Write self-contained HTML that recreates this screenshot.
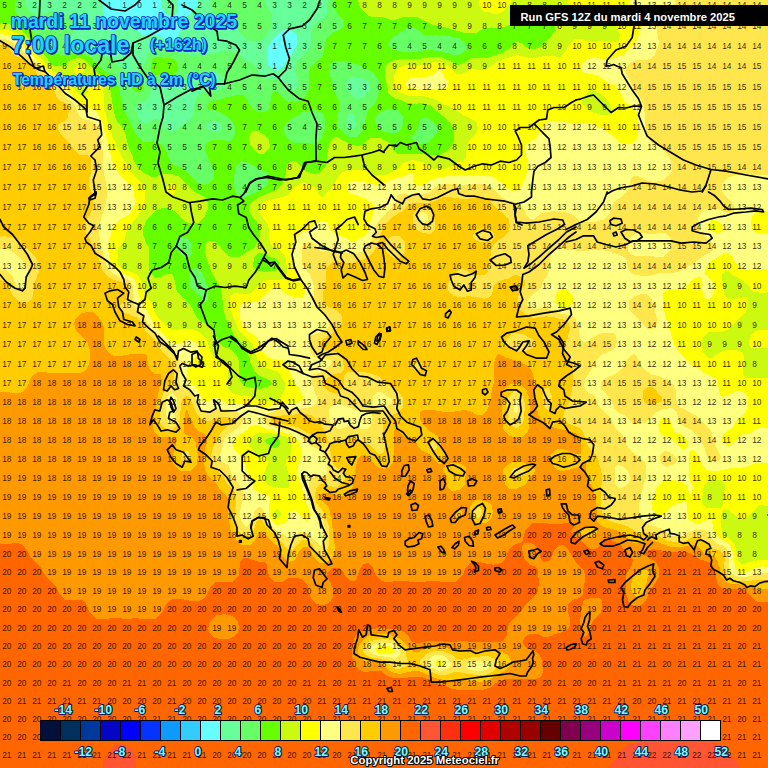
<!DOCTYPE html>
<html><head><meta charset="utf-8"><title>Meteociel GFS</title>
<style>
html,body{margin:0;padding:0;background:#FF6600;}
body{width:768px;height:768px;overflow:hidden;font-family:"Liberation Sans",sans-serif;}
svg{display:block;position:absolute;left:0;top:0}
.n text{font-family:"Liberation Sans",sans-serif;font-size:8.3px;text-anchor:start;fill:#140600;fill-opacity:.88}
.t text{font-family:"Liberation Sans",sans-serif;font-weight:bold;fill:#20d4ff;stroke:#0a22c4;stroke-width:1.5px;paint-order:stroke fill;stroke-linejoin:round}
.ts text{font-family:"Liberation Sans",sans-serif;font-weight:bold;fill:#0a22c4;stroke:#0a22c4;stroke-width:1.3px;stroke-linejoin:round}
.l text{font-family:"Liberation Sans",sans-serif;font-weight:bold;font-size:12.2px;text-anchor:start;fill:#7ff;stroke:#081a5c;stroke-width:2px;paint-order:stroke fill;stroke-linejoin:round}
.c{fill:none;stroke:#000;stroke-width:1.7;stroke-linejoin:round;stroke-linecap:round}
</style></head><body>
<svg width="768" height="768" viewBox="0 0 768 768" shape-rendering="crispEdges">
<rect width="768" height="768" fill="#66FFFF"/>
<path transform="translate(-1,-1)" fill="#66FF99" fill-rule="evenodd" d="M162,0 162,6 165,13 169,16 177,16 179,12 179,0ZM0,0 0,769 769,769 769,0 199,0 199,5 197,9 190,16 183,20 182,25 181,26 181,32 180,33 180,35 177,40 172,44 169,43 160,37 157,37 156,36 146,37 145,36 143,36 137,29 135,25 129,19 126,19 117,31 115,32 111,32 108,29 106,25 105,15 104,14 103,0ZM291,30 293,31 298,37 298,41 299,42 298,43 298,46 294,53 291,56 285,67 280,71 276,71 272,69 269,65 269,62 268,61 268,51 269,50 269,48 274,40 281,33 287,30Z"/>
<path transform="translate(-1,-1)" fill="#66FF66" fill-rule="evenodd" d="M212,0 212,6 213,7 213,12 216,16 230,15 234,19 235,23 240,33 247,40 251,42 257,43 262,41 267,36 272,28 272,26 273,25 273,16 266,4 266,0ZM0,0 0,769 769,769 769,0 329,0 329,5 328,6 328,13 327,14 327,16 322,22 319,23 313,28 313,31 312,32 312,45 309,51 298,62 296,66 296,73 299,78 300,85 299,86 299,88 294,92 291,91 285,85 285,84 281,81 279,81 278,80 267,80 266,79 264,79 260,75 257,68 253,64 248,62 239,54 235,52 231,52 230,51 222,52 215,55 199,55 198,56 190,56 185,54 173,53 172,52 169,52 168,51 165,51 160,49 156,49 151,52 149,55 149,57 147,60 145,67 141,71 137,73 126,73 120,68 114,60 108,59 100,54 98,54 91,50 75,48 71,45 70,42 77,27 76,21 73,18 58,12 51,12 48,14 46,14 42,16 37,16 31,13 28,9 28,7 27,6 27,0ZM207,127 208,125 212,122 218,122 223,126 223,128 219,132 211,132 208,130ZM354,114 356,117 357,127 352,131 347,127 347,124 348,123 349,116 351,114ZM346,84 351,78 362,79 367,81 370,84 371,86 371,91 366,97 360,100 357,100 349,93 347,89ZM228,83 227,87 220,91 216,91 215,92 207,92 206,93 201,94 197,99 196,105 195,106 195,110 194,111 194,114 192,119 187,124 176,132 173,132 172,133 166,130 161,124 159,120 155,120 152,123 148,125 144,125 140,121 138,114 136,111 136,107 138,105 146,102 150,98 153,88 157,84 159,84 160,83 173,84 174,85 176,84 181,84 185,82 193,75 203,75 208,73 217,73 222,76Z"/>
<path transform="translate(-1,-1)" fill="#66FF00" fill-rule="evenodd" d="M144,82 139,82 135,84 133,87 133,90 137,93 142,92 145,88 145,83ZM153,62 153,64 152,65 152,73 156,76 173,76 176,74 178,71 178,64 174,60 172,60 171,59 164,59 163,58 157,58 155,59ZM0,0 0,769 769,769 769,0 335,0 336,10 338,14 345,22 345,27 342,30 333,34 328,39 326,44 325,53 323,58 315,64 311,69 311,71 310,72 310,89 307,96 301,102 299,102 298,103 290,103 286,101 279,93 275,92 273,94 273,96 272,97 271,108 267,113 259,113 255,111 249,104 249,102 246,97 242,95 241,96 236,96 235,97 224,99 223,100 212,103 208,106 208,109 209,110 212,110 213,111 216,111 221,113 227,117 234,124 236,128 236,136 234,140 231,142 226,142 225,141 214,141 208,144 206,148 206,152 212,165 214,167 214,169 215,170 215,179 210,185 207,185 206,186 199,184 183,169 175,166 170,161 167,151 163,146 158,143 155,143 154,142 152,143 145,143 138,137 124,109 120,89 109,74 101,69 91,58 86,55 84,55 83,54 74,54 69,56 60,56 59,55 53,54 47,49 40,47 37,44 32,28 29,25 25,23 18,16 16,12 16,0ZM195,269 198,269 203,274 206,280 206,282 209,287 209,300 207,303 206,303 192,289 190,285 190,277 192,272ZM180,238 187,238 193,245 193,255 192,257 189,259 182,256 177,249 176,243ZM243,162 248,163 260,170 267,172 269,174 269,185 266,188 260,191 258,193 246,198 241,198 239,197 236,193 236,189 235,188 235,175 236,174 236,170 237,169 237,167ZM427,118 433,122 438,127 438,129 439,130 438,131 438,133 435,137 429,143 425,145 420,145 419,144 417,144 414,141 413,138 419,129 421,121 423,119ZM325,117 325,119 326,120 326,129 325,130 325,133 322,141 316,146 311,145 310,144 295,144 294,143 292,143 287,138 285,134 285,131 284,130 285,126 290,121 304,113 316,111 317,112 320,112ZM376,118 381,113 385,111 388,111 389,110 396,110 400,112 404,118 404,125 403,126 403,129 399,134 391,134 390,133 386,133 380,130 377,127 376,125ZM335,62 350,62 356,65 358,65 374,73 380,82 381,90 380,91 379,98 376,104 371,109 368,114 367,120 366,121 366,125 363,132 357,138 350,138 346,136 341,131 338,125 338,116 340,111 340,102 335,92 335,90 333,86 333,83 332,82 332,79 331,78 331,75 330,74 330,66ZM389,45 390,44 390,42 393,39 408,29 413,28 418,30 426,36 444,36 445,37 451,37 452,38 457,38 458,39 460,39 467,44 468,49 463,54 459,56 454,56 450,54 440,53 439,52 435,52 434,51 424,51 423,52 419,52 418,53 413,53 411,54 410,53 402,53 401,52 395,51 393,50Z"/>
<path transform="translate(-1,-1)" fill="#CCF910" fill-rule="evenodd" d="M254,132 252,133 250,138 251,145 257,153 261,155 264,155 266,154 271,148 270,141 267,137 259,132ZM0,24 0,769 769,769 769,0 359,0 360,6 363,11 369,17 371,17 372,18 384,18 392,21 396,21 404,18 418,18 434,26 449,29 453,31 456,31 457,32 460,32 465,34 477,34 486,29 491,29 492,28 494,29 502,29 503,28 506,28 510,26 518,19 520,19 521,18 531,18 542,14 549,16 555,22 556,24 556,31 553,36 541,48 539,49 537,49 536,50 531,50 525,47 522,44 517,43 508,51 501,55 499,55 489,59 473,59 467,63 460,66 455,65 453,63 442,58 429,58 428,59 422,59 421,60 400,60 399,61 395,61 390,63 386,68 386,78 387,79 387,84 388,85 389,93 391,96 397,100 402,101 408,104 412,104 413,105 424,104 425,105 431,106 444,117 445,117 452,125 455,131 455,142 453,146 446,153 441,156 426,156 425,155 398,155 395,152 391,144 381,139 371,139 363,146 356,147 355,146 352,146 338,138 335,138 332,141 330,145 329,154 328,155 328,163 327,164 327,167 321,174 315,175 314,174 308,173 305,171 299,164 296,162 292,162 290,163 288,166 286,179 282,187 277,191 260,198 252,204 250,208 250,212 254,219 258,223 261,229 261,237 260,238 260,240 257,246 253,250 240,258 232,258 227,255 217,243 215,242 210,242 207,244 206,246 206,254 207,255 208,262 211,268 211,270 222,290 222,293 223,294 223,301 224,302 224,311 225,312 226,318 236,338 248,349 250,359 251,360 251,363 256,373 261,377 270,381 273,384 270,387 262,390 248,388 244,386 241,383 241,381 240,380 240,362 238,357 234,352 229,349 227,349 223,347 219,343 218,339 216,336 216,334 214,330 211,327 203,323 198,319 191,305 179,294 177,290 176,282 174,277 172,275 167,275 164,277 157,279 152,275 150,271 150,249 146,242 146,240 144,236 144,229 148,220 156,212 163,209 169,209 177,213 185,222 193,225 199,224 205,219 209,210 209,204 206,198 194,192 186,184 186,183 179,177 177,177 173,175 162,175 157,178 153,178 145,174 139,169 134,160 134,158 130,150 126,134 123,128 119,124 116,118 115,112 114,111 113,99 112,98 112,93 111,92 110,86 107,81 102,76 97,73 85,60 78,59 70,62 64,67 55,67 50,63 49,60 43,54 38,52 32,46 30,42 30,40 28,37 21,30 10,25ZM266,441 270,439 278,439 281,441 281,444 277,449 275,449 271,446 268,445 266,443ZM255,259 256,257 260,254 267,255 271,258 275,259 280,264 280,268 276,272 269,272 268,273 259,272 254,268Z"/>
<path transform="translate(-1,-1)" fill="#FFFF00" fill-rule="evenodd" d="M755,333 752,337 750,342 750,346 751,348 753,349 769,349 769,331 760,331ZM172,184 168,187 168,192 170,195 173,196 177,193 178,188 175,185ZM81,65 80,66 78,66 75,69 75,73 78,75 83,75 85,71 85,68ZM769,0 569,0 569,4 570,6 580,17 584,19 588,19 589,20 593,20 594,19 606,19 612,22 618,29 621,36 620,40 617,43 610,43 609,42 599,42 598,43 593,43 592,42 588,42 584,40 576,40 570,45 564,56 561,58 557,58 556,57 543,57 542,58 537,58 536,59 529,59 528,58 517,56 516,57 513,57 512,58 504,60 501,62 499,62 487,71 478,71 477,70 473,70 463,75 458,75 448,66 442,63 434,63 427,66 406,66 405,67 400,68 396,72 396,75 395,76 395,87 400,93 410,97 425,97 426,98 433,99 441,103 443,105 447,106 457,111 465,117 469,118 474,121 478,125 479,130 477,134 472,139 469,144 468,151 467,152 467,158 462,163 460,163 451,168 449,168 445,170 435,170 424,163 413,161 405,164 397,171 387,176 376,176 366,171 353,171 352,172 346,172 345,173 343,173 340,176 336,184 331,191 323,198 320,196 319,193 315,188 310,185 303,184 297,187 296,189 287,197 267,202 263,204 260,207 260,213 269,226 269,229 270,230 270,241 271,242 271,244 273,247 281,251 286,257 286,259 287,260 287,266 288,267 288,274 287,275 287,277 284,280 281,280 280,281 268,281 263,283 252,294 250,295 240,295 239,294 234,294 231,298 231,310 239,330 242,334 254,345 254,347 256,350 257,357 260,364 263,367 267,369 277,372 282,377 286,384 286,390 282,398 278,401 274,401 273,402 265,402 264,401 261,401 251,397 242,397 241,396 235,395 229,390 229,387 228,386 228,384 229,383 229,367 227,364 219,361 214,357 211,352 209,344 206,338 200,333 193,330 188,330 186,329 185,330 174,331 168,328 162,322 157,315 155,311 154,306 149,299 144,289 143,284 140,278 137,275 133,273 125,271 120,267 119,265 119,250 124,244 126,240 127,234 129,229 139,217 145,206 145,204 146,203 146,192 143,185 131,172 128,165 123,158 117,146 117,144 113,137 113,135 111,132 111,130 109,126 109,123 108,122 108,119 107,118 107,115 105,110 105,95 104,94 104,88 103,86 97,80 92,80 90,81 90,84 89,85 89,92 84,97 82,97 72,87 71,84 66,77 53,72 46,65 44,61 36,55 28,47 25,41 19,35 9,31 0,31 0,769 769,769 769,561 758,561 757,562 750,563 743,566 739,561 739,559 738,558 738,553 737,552 737,549 735,544 723,534 722,524 721,523 722,521 723,512 726,510 727,511 729,511 741,520 747,520 759,507 761,506 769,507 769,379 747,379 744,376 745,357 744,356 744,354 741,352 738,352 737,351 727,351 720,354 713,359 710,359 706,356 704,353 704,350 703,349 703,341 704,340 704,338 708,334 710,333 723,333 728,331 746,314 749,308 749,301 748,299 745,299 744,298 743,299 739,299 738,300 729,300 727,298 725,294 725,291 724,290 724,283 723,282 723,276 726,272 729,272 735,277 743,281 751,289 751,290 755,293 759,293 760,294 766,294 767,293 769,293ZM278,509 282,514 282,516 279,519 277,519 275,517 275,512ZM711,481 714,481 715,480 716,481 721,481 723,482 726,486 724,506 722,509 707,509 703,505 704,490 706,485ZM255,436 259,434 272,434 273,435 278,435 279,436 282,436 287,438 292,443 292,455 287,462 287,467 288,468 289,475 290,476 290,487 288,489 279,489 278,488 274,488 269,486 266,483 264,476 270,463 268,460 258,455 251,449 250,447 250,442ZM591,91 595,91 597,93 602,95 610,102 611,107 612,108 612,111 611,112 611,114 609,116 607,116 606,117 605,116 601,116 600,115 595,114 589,111 584,106 583,104 584,99ZM480,7 481,9 486,13 489,13 494,15 499,15 503,13 510,6 512,2 512,0 480,0Z"/>
<path transform="translate(-1,-1)" fill="#FFFF80" fill-rule="evenodd" d="M449,83 445,78 442,71 440,71 435,75 428,78 413,78 409,81 407,84 407,87 410,89 413,89 414,90 435,90 436,91 444,91 449,88ZM769,0 630,0 631,5 634,11 639,17 641,22 641,25 642,26 641,34 636,44 627,54 622,57 620,57 616,59 613,59 612,60 601,60 600,59 591,59 590,60 588,60 583,66 583,71 584,73 586,74 598,76 610,84 615,86 620,91 625,102 628,105 631,106 637,112 639,117 639,136 637,141 632,145 625,145 624,144 622,144 605,130 591,124 583,124 582,123 581,124 568,124 567,123 561,123 560,122 550,122 543,128 538,137 534,141 526,146 526,154 527,155 527,158 529,163 529,170 528,171 528,174 527,175 526,180 522,188 516,192 513,192 508,190 500,182 496,179 491,177 452,176 451,177 446,177 445,178 441,178 440,179 434,180 424,186 418,186 416,185 414,182 414,175 413,174 411,174 406,177 392,181 389,183 387,183 383,185 379,185 378,186 371,185 364,182 353,182 351,183 348,187 348,192 352,195 358,196 361,198 365,199 367,201 373,204 375,207 374,215 372,219 372,222 371,223 370,229 368,234 364,238 359,240 355,243 353,243 346,238 340,237 334,234 331,230 329,225 327,223 322,222 317,224 309,231 304,233 298,238 296,242 296,245 294,250 294,266 297,273 305,285 305,288 306,289 306,294 305,295 305,297 302,299 296,299 287,295 280,290 275,289 269,292 260,302 258,303 253,303 252,304 244,304 241,306 241,320 242,321 242,325 243,327 249,333 252,334 259,341 261,345 262,350 264,354 267,357 273,360 283,361 288,366 295,383 301,390 302,394 304,397 304,401 298,404 284,405 283,406 276,406 275,407 270,407 269,408 265,408 264,409 258,409 247,405 232,405 231,404 228,404 219,399 216,399 210,402 206,402 203,400 198,389 192,385 188,381 188,368 189,367 189,365 199,356 199,353 200,352 199,346 196,343 192,341 187,341 181,344 174,344 171,342 166,337 166,336 156,327 148,311 141,302 140,296 139,295 139,290 136,282 132,278 118,272 112,265 111,259 110,258 109,247 110,246 110,240 111,239 113,231 119,222 129,216 132,213 136,205 136,200 135,199 135,193 134,192 134,190 122,178 114,166 114,164 112,160 112,156 111,155 111,151 110,150 108,139 105,131 105,128 99,115 95,111 82,106 69,93 62,82 55,77 52,76 44,68 42,64 26,50 23,45 18,40 10,36 0,35 0,769 769,769 769,568 764,568 763,567 762,568 758,568 746,574 740,574 736,569 736,566 734,561 734,554 733,553 732,548 727,543 721,540 717,536 715,532 713,522 712,521 708,521 701,524 695,524 691,522 689,519 689,515 688,514 688,505 686,502 677,505 671,509 667,513 661,516 657,515 653,510 653,502 654,501 654,498 655,497 656,492 658,488 663,483 667,481 676,481 677,482 683,483 688,487 690,494 692,494 693,493 694,488 690,478 690,453 692,451 694,451 697,453 704,467 708,471 710,471 711,472 720,472 721,471 729,470 730,469 741,469 742,468 747,468 757,464 769,464 769,430 767,429 760,429 751,434 743,436 740,438 733,446 731,447 728,447 725,445 723,441 724,436 728,432 734,428 737,422 745,414 746,414 749,409 749,398 746,394 741,392 737,392 736,393 731,394 729,396 724,398 722,397 720,394 720,389 719,388 719,383 716,379 705,374 700,370 694,367 682,356 675,345 675,343 672,336 672,333 670,329 670,326 666,316 665,309 664,308 664,295 668,290 682,290 686,288 695,279 697,279 698,278 701,278 703,280 703,292 704,293 704,298 706,300 710,300 712,299 715,294 715,285 714,283 706,276 705,274 706,273 706,270 711,263 725,254 729,254 733,258 737,265 743,270 745,270 746,271 769,270 769,235 760,235 756,233 754,231 752,226 752,221 753,220 753,218 758,212 762,212 763,211 764,212 769,212ZM435,664 438,661 443,661 446,665 444,667 440,668 436,666ZM376,650 379,647 385,646 386,647 393,648 396,652 392,655 383,655 378,653ZM252,427 258,426 259,427 264,428 267,430 270,430 275,432 279,432 280,433 284,433 285,434 290,435 295,438 301,445 302,451 303,452 303,456 299,467 299,478 300,479 300,482 302,485 302,487 306,497 306,500 312,516 311,519 308,522 306,522 302,518 300,514 295,511 292,512 290,516 289,521 285,525 277,526 272,521 270,517 270,504 271,503 271,499 269,497 262,495 256,491 254,488 254,486 252,483 251,478 246,468 246,466 242,458 236,451 233,444 234,443 234,441 238,437 242,435ZM663,419 665,418 669,419 672,423 674,431 676,433 683,436 689,442 689,447 686,450 684,450 680,448 672,440 669,438 667,438 663,436 660,433 660,427 659,425 660,424 660,422ZM563,290 570,292 574,297 574,303 571,307 566,309 560,308 555,302 556,301 556,298 558,293 560,291 562,291ZM708,226 712,221 715,221 720,223 724,227 724,231 722,233 720,233 719,234 713,233 709,229 709,227Z"/>
<path transform="translate(-1,-1)" fill="#FFE64D" fill-rule="evenodd" d="M666,452 664,453 661,457 661,463 665,467 668,468 675,465 678,462 678,460 676,457 670,453ZM602,384 602,389 612,401 616,411 618,413 625,416 632,423 636,425 642,425 643,424 645,424 658,413 664,410 673,409 677,412 679,417 679,420 681,424 686,428 692,431 700,439 706,450 707,455 710,461 713,463 716,463 721,461 722,458 715,444 712,431 696,416 683,409 681,409 678,406 678,403 677,402 677,392 676,391 675,386 668,380 666,380 660,377 654,376 647,372 642,366 637,356 635,355 632,356 628,361 625,367 618,374 605,380ZM634,298 630,303 630,310 631,312 640,320 640,321 647,329 649,330 654,330 658,325 658,319 657,318 656,309 652,299 647,295 642,295ZM769,0 676,0 676,4 675,5 674,10 669,15 662,18 659,21 658,23 658,35 659,36 660,45 656,55 651,60 649,60 648,61 637,61 633,63 628,67 627,69 627,74 635,90 643,101 643,103 645,107 645,112 646,113 646,129 647,130 648,137 652,143 663,149 669,156 672,162 673,172 666,180 662,182 658,182 657,183 649,182 639,177 634,177 631,182 631,185 630,186 629,191 624,197 616,202 613,207 611,214 609,217 604,221 598,222 597,223 584,223 583,222 581,222 574,216 570,214 567,214 566,213 556,213 555,212 546,213 545,214 543,214 535,220 531,220 527,216 526,212 522,206 518,204 507,201 500,196 491,187 489,186 487,186 486,185 473,185 472,186 444,185 437,188 431,193 423,196 409,196 408,195 400,195 398,197 397,203 394,208 380,221 377,227 377,229 371,245 369,248 363,253 361,253 357,255 351,255 350,254 347,254 344,252 338,251 337,250 334,250 329,252 325,252 324,253 323,252 321,252 316,247 316,246 312,243 309,243 305,245 303,248 303,265 311,276 314,283 314,286 315,287 315,304 317,309 320,312 323,313 329,319 331,323 330,327 325,332 321,334 313,336 311,338 311,340 310,341 310,349 311,350 312,355 315,358 320,359 321,360 328,360 329,361 331,361 333,363 333,365 324,372 320,374 315,375 312,377 312,384 315,389 315,391 318,398 318,403 315,407 310,408 309,409 302,409 301,410 285,410 284,411 277,411 267,416 265,418 265,422 266,424 271,427 273,427 277,429 282,429 283,430 291,431 299,435 303,438 311,447 321,451 327,458 327,460 328,461 328,475 325,477 316,477 311,479 310,481 310,493 311,494 311,498 316,510 321,516 324,522 325,528 326,529 326,539 324,544 322,546 321,546 308,534 306,534 305,533 301,533 294,539 291,540 284,535 277,532 268,522 265,512 262,508 259,508 257,510 255,514 255,516 253,519 253,521 249,527 247,528 244,525 241,518 241,510 242,509 242,506 244,501 244,492 240,485 235,480 232,474 230,467 228,465 224,464 220,460 220,457 223,451 223,447 224,446 225,441 230,435 241,427 244,422 244,418 238,413 233,411 230,411 229,410 217,410 214,412 204,412 200,408 197,402 197,400 194,395 191,392 184,389 181,386 181,384 180,383 181,363 180,362 179,357 172,352 166,346 163,341 152,330 145,317 136,308 134,304 134,288 132,284 128,280 121,278 113,274 107,266 107,264 105,260 105,257 104,256 104,253 103,252 103,249 102,248 101,239 100,238 100,226 101,225 101,222 102,221 102,219 105,212 106,205 107,204 107,200 108,199 108,188 107,187 107,183 106,182 106,178 105,177 105,172 104,171 104,152 103,151 103,143 101,138 100,130 98,126 93,122 83,120 81,118 76,107 64,94 60,87 55,82 49,79 43,73 40,67 35,62 31,60 18,46 9,41 7,41 6,40 0,40 0,250 8,250 14,253 27,265 29,269 29,273 28,274 28,283 27,284 27,287 24,290 21,290 17,286 14,278 9,272 7,271 0,271 0,769 769,769 769,574 759,574 748,578 739,578 738,577 736,577 733,575 730,571 730,554 729,553 729,551 723,546 721,546 717,544 711,538 707,532 705,531 695,531 688,534 684,537 678,538 677,537 673,537 669,535 661,529 659,529 656,527 654,527 647,524 642,519 640,515 640,503 641,502 642,494 643,493 644,487 647,479 647,467 646,466 646,464 642,459 634,454 630,450 626,443 626,441 624,437 616,428 611,418 601,409 599,406 597,399 593,395 589,394 586,391 586,389 585,388 586,380 592,371 596,362 602,356 614,351 617,347 617,345 618,344 617,337 614,334 603,334 596,337 589,342 585,343 583,342 581,339 579,324 575,318 571,316 562,315 561,314 556,313 553,311 551,311 548,309 532,310 528,305 529,300 534,295 539,292 542,288 546,279 548,277 551,269 551,259 552,258 552,255 556,251 566,250 567,251 576,251 577,252 589,252 590,251 605,251 606,252 610,252 611,253 624,257 628,262 629,269 632,274 636,276 640,276 641,277 651,277 652,276 655,276 660,274 674,274 675,273 679,273 694,265 701,259 710,254 714,250 714,248 715,247 713,243 707,239 702,234 700,230 700,228 699,227 699,218 700,217 700,215 706,210 718,210 731,215 735,214 736,209 734,204 726,197 723,192 723,185 728,179 736,176 740,176 741,175 751,175 752,176 769,176ZM467,668 467,666 469,664 474,662 488,662 491,665 491,667 487,671 485,671 484,672 474,672 473,671 470,671ZM428,662 432,658 436,656 443,656 447,658 453,665 450,669 443,672 440,672 434,669 432,669 428,665ZM370,649 373,646 377,644 382,644 383,643 385,644 392,644 397,646 401,650 401,655 397,660 391,659 390,658 379,657 372,654 370,652ZM618,466 623,467 629,473 631,477 631,481 630,483 626,487 622,489 618,488 616,484 616,468ZM330,410 334,406 342,405 357,411 370,411 373,414 373,423 372,424 372,426 371,428 368,430 362,430 355,427 349,427 342,430 338,430 333,425 330,420ZM516,400 520,403 519,412 517,415 515,412 515,408 514,407 514,403ZM174,394 178,399 178,407 177,408 176,419 175,421 171,424 168,421 168,417 167,416 167,401 169,397 171,395ZM374,397 378,393 381,393 385,395 388,398 391,399 393,401 393,404 386,409 377,410 374,407ZM629,244 631,239 634,236 639,234 646,234 647,235 666,234 671,238 671,240 672,241 672,248 670,253 664,258 655,258 654,257 635,257 634,256 632,256 629,253ZM422,213 427,214 429,217 429,220 426,224 422,224 419,221 419,216Z"/>
<path transform="translate(-1,-1)" fill="#FFCC00" fill-rule="evenodd" d="M645,391 644,393 644,400 645,401 645,403 648,406 654,406 661,403 663,401 663,399 654,388 648,388ZM0,46 0,237 14,238 22,242 28,250 37,259 40,264 40,273 36,282 35,291 34,292 34,297 32,301 29,303 22,303 17,300 13,295 9,286 5,282 0,281 0,769 769,769 769,581 738,582 730,579 726,575 726,573 725,572 725,563 726,562 725,555 720,551 712,549 705,542 705,541 700,538 694,538 684,543 673,543 672,542 669,542 656,535 654,535 653,534 638,533 628,527 610,522 604,516 603,514 603,510 602,509 602,486 603,485 603,475 602,474 602,470 601,469 600,462 597,456 589,447 584,433 580,429 568,424 564,419 565,413 571,401 572,393 573,392 573,387 574,386 574,367 566,351 566,344 569,339 570,332 571,331 570,325 567,322 563,320 560,320 555,318 549,318 548,317 546,317 545,318 538,318 537,319 534,319 526,316 522,312 519,306 519,298 522,291 526,286 526,282 522,278 518,276 516,276 508,280 505,280 504,281 499,282 495,286 493,295 489,299 486,299 485,300 483,299 478,299 477,298 472,298 471,297 467,297 466,298 458,298 457,297 454,297 449,292 449,285 453,277 459,271 461,271 462,270 467,271 469,273 476,276 485,276 488,274 490,269 491,257 492,256 492,252 494,247 499,241 505,238 510,232 510,229 511,228 510,221 504,214 500,212 487,199 485,199 484,198 475,198 474,199 470,199 469,200 460,200 459,199 453,199 452,198 444,198 434,203 431,203 430,204 414,204 409,206 402,213 392,219 385,226 381,237 381,240 379,243 379,245 375,252 370,257 363,261 361,261 354,264 346,264 345,263 340,263 339,262 334,263 328,268 327,270 327,286 324,293 324,303 328,307 337,311 342,316 343,318 343,323 342,325 331,336 321,342 320,344 320,348 324,351 334,352 339,354 342,357 344,361 345,371 341,374 335,375 328,379 325,383 325,387 326,389 329,392 337,395 343,390 344,385 345,384 345,376 348,373 366,373 367,374 371,374 379,377 389,386 401,394 404,399 404,408 400,413 389,418 384,424 384,435 385,436 386,448 385,449 385,452 383,455 380,455 369,445 355,438 349,439 339,444 331,444 329,442 327,435 322,426 319,422 312,416 309,416 308,415 283,416 282,417 276,417 272,420 272,422 277,425 284,425 285,426 291,426 292,427 299,428 308,434 311,435 316,440 316,441 320,443 328,444 330,446 330,448 331,449 331,453 332,454 332,459 333,460 333,462 336,467 344,473 346,477 346,480 345,482 338,488 334,488 327,485 321,485 317,490 317,492 316,493 316,500 317,501 317,503 326,515 328,519 329,526 330,527 330,546 329,547 328,553 325,556 321,556 317,552 314,547 308,541 303,541 293,551 291,552 288,550 283,543 268,529 262,520 259,521 256,526 256,528 254,532 249,537 246,538 240,533 236,523 236,518 235,516 236,515 236,508 237,507 237,496 235,492 227,483 225,479 214,468 212,464 212,454 213,453 213,451 222,433 228,427 231,426 234,423 234,420 230,418 220,418 211,422 206,422 201,419 198,415 191,400 189,398 186,397 183,400 183,402 182,403 181,421 179,426 173,431 169,431 163,427 161,423 161,408 162,407 162,401 165,393 171,387 174,382 174,380 175,379 175,367 174,366 174,364 164,354 159,345 147,333 143,324 137,318 133,317 130,315 125,314 121,311 120,307 127,300 127,298 128,297 128,291 129,290 128,286 126,284 115,281 109,278 106,275 103,270 98,254 86,232 86,224 93,211 93,208 94,207 94,198 90,187 90,179 92,174 92,160 89,156 81,156 78,154 72,146 61,134 59,130 59,127 62,123 65,122 69,118 70,110 69,109 69,107 66,104 63,103 58,99 54,88 51,85 48,85 43,83 39,79 36,69 33,66 28,64 22,59 15,56 12,53 9,47 7,47 6,46ZM421,661 427,655 431,653 433,653 434,652 444,652 453,656 458,660 460,660 461,661 471,659 472,658 489,657 498,661 500,663 500,667 493,673 487,676 474,676 473,675 467,675 466,674 462,674 461,673 455,673 447,676 440,676 426,670 421,665ZM364,649 368,644 375,641 378,641 379,640 389,640 390,641 393,641 398,643 405,649 407,652 407,657 410,664 406,668 404,668 400,670 397,670 393,668 386,661 379,660 378,659 374,659 367,656 364,652ZM477,508 480,508 483,511 483,516 479,519 477,518 474,514 474,512ZM512,474 512,472 516,469 524,469 529,473 527,475 520,478 517,478ZM186,452 188,452 190,454 190,456 191,457 191,459 188,463 185,463 182,459 184,454ZM433,442 435,442 438,445 438,448 435,451 433,451 430,447 431,444ZM516,392 520,393 523,396 526,404 525,420 523,425 518,429 514,428 510,424 510,422 509,421 509,414 508,413 508,401 510,397ZM547,389 549,389 551,391 552,396 553,397 553,407 552,409 549,411 546,409 544,405 544,393ZM418,363 421,365 421,370 419,372 416,370 416,365ZM507,340 512,335 514,335 515,334 520,334 521,335 524,335 533,340 536,343 536,346 533,349 527,352 521,352 519,353 518,352 513,351 508,347 507,345ZM393,237 401,237 406,243 406,252 404,256 400,259 395,259 391,257 387,252 387,250 386,249 386,245 388,241ZM474,235 478,231 480,231 481,230 487,230 492,232 495,235 496,238 492,242 489,242 488,243 481,243 476,241 474,239ZM421,208 428,208 434,214 435,220 436,221 436,231 431,235 424,234 418,231 414,225 414,216 416,212Z"/>
<path transform="translate(-1,-1)" fill="#FF9900" fill-rule="evenodd" d="M0,393 0,769 769,769 769,590 758,590 747,586 732,585 727,583 722,577 722,575 721,574 721,569 720,568 719,563 716,558 706,554 697,546 690,546 689,547 685,547 684,548 672,548 653,541 648,541 641,544 635,544 620,532 602,527 598,522 597,499 596,498 595,491 588,479 588,476 587,475 587,464 585,463 581,467 577,469 571,470 570,471 566,471 565,472 562,472 557,470 551,464 551,457 552,455 555,452 559,450 565,450 577,455 581,455 582,454 582,442 581,441 581,439 577,434 575,434 571,432 568,432 567,431 558,430 557,429 549,427 542,421 539,415 539,413 537,409 537,405 536,404 536,388 535,387 535,379 534,378 534,375 532,371 527,366 522,363 508,359 500,355 497,357 496,362 495,363 495,384 493,389 492,399 491,400 490,407 487,413 483,416 478,416 471,412 468,412 467,411 456,412 455,413 443,413 442,412 437,412 436,411 423,411 421,413 421,420 423,424 429,431 437,436 440,439 442,444 442,448 448,455 448,461 444,465 440,465 438,464 432,456 422,451 419,448 418,445 414,441 412,441 404,437 399,432 398,429 397,429 395,432 395,455 394,456 394,463 391,468 386,470 381,469 376,466 368,457 366,456 362,456 358,461 357,469 356,470 356,475 355,476 354,487 353,488 353,490 349,495 344,497 340,497 339,496 336,496 333,494 323,494 321,496 322,501 329,507 331,512 331,515 333,519 334,538 335,539 335,545 336,546 336,554 334,558 330,562 325,564 321,564 319,563 314,557 312,552 308,548 305,548 302,550 299,554 297,559 294,562 292,562 291,563 288,562 284,558 282,554 282,552 279,547 274,544 266,536 266,535 262,532 259,535 255,543 251,546 243,546 235,539 231,529 230,520 229,519 229,510 230,509 230,502 229,501 229,499 220,489 219,486 209,477 206,471 206,468 205,467 205,455 206,454 206,449 208,444 208,439 207,437 204,434 201,433 196,429 194,425 194,423 190,417 189,413 187,410 187,412 186,413 185,433 186,435 193,438 197,444 198,454 199,455 198,465 197,467 191,472 182,472 175,466 174,464 174,454 175,453 175,450 176,449 178,441 176,439 172,439 171,438 161,438 156,434 154,429 154,419 155,418 156,410 157,409 158,398 159,397 160,389 163,383 162,376 161,375 156,375 151,371 149,366 148,357 146,355 130,355 129,356 124,356 123,357 115,357 111,355 108,352 105,346 105,328 104,327 104,325 100,319 95,314 93,313 86,313 85,314 83,314 77,319 75,324 77,332 87,341 89,344 90,350 91,351 91,361 90,362 90,365 88,369 85,372 81,374 48,374 47,373 39,373 33,377 28,388 23,393 21,394ZM359,649 362,643 367,638 371,636 375,636 376,635 389,635 390,636 396,637 401,640 414,653 420,653 423,651 425,651 428,649 431,649 432,648 443,648 444,649 448,649 449,650 452,650 460,653 469,653 470,652 478,652 479,651 493,651 494,652 503,653 507,655 510,658 512,662 512,665 506,672 488,682 485,682 484,683 479,683 478,682 468,682 467,681 464,681 463,682 451,682 450,681 443,681 442,680 439,680 420,672 412,672 411,673 403,674 402,675 395,674 391,672 382,664 380,664 379,663 371,663 370,664 369,663 366,663 361,658 359,654ZM647,571 650,574 650,576 648,580 648,583 647,584 646,589 644,593 640,597 637,598 633,594 633,592 632,591 632,584 633,583 633,581 635,577 639,573 643,571ZM580,533 582,531 587,529 595,529 598,531 598,534 593,538 584,537 582,536ZM455,513 457,511 461,511 463,513 463,517 459,520 455,517ZM475,502 477,501 482,501 490,504 493,507 494,514 493,515 493,518 489,523 487,524 478,524 473,520 471,516 471,508ZM447,466 452,464 459,464 464,466 467,469 466,485 461,491 453,492 448,488 448,478 444,471 445,468ZM524,463 532,467 536,471 535,475 530,479 528,483 524,487 517,490 511,490 509,489 506,486 506,484 505,483 504,470 509,465 513,463ZM512,385 519,385 520,386 522,386 528,392 529,397 530,398 530,403 531,404 531,421 530,422 530,429 528,434 523,438 513,438 512,437 510,437 506,433 504,429 504,424 503,423 503,397 506,389Z"/>
<path transform="translate(-1,-1)" fill="#FF6600" fill-rule="evenodd" d="M769,603 759,603 755,601 747,592 742,590 726,590 725,589 722,589 718,584 717,575 714,567 711,564 707,562 702,561 691,554 689,554 688,553 667,553 666,552 652,550 651,551 649,551 647,553 646,556 649,559 654,561 658,565 660,569 660,578 655,586 652,589 647,601 642,606 640,607 635,607 630,603 627,595 627,576 633,566 634,561 625,551 622,546 610,540 607,540 600,548 596,550 592,550 588,548 582,542 582,541 576,538 571,533 575,528 575,526 574,525 570,525 569,524 564,524 563,525 534,524 527,530 525,535 524,542 521,544 514,546 511,549 506,560 502,564 493,566 492,565 487,565 486,564 482,564 481,563 473,563 467,568 463,577 456,583 441,583 440,582 427,582 426,583 394,582 393,583 385,583 384,582 382,582 378,578 373,567 369,564 364,565 360,572 358,579 355,582 351,582 346,577 345,574 341,569 334,569 328,574 328,578 332,584 332,586 334,589 334,598 330,604 325,606 320,606 319,605 317,605 313,601 311,597 309,587 307,584 302,580 300,580 299,579 290,579 283,583 275,583 270,578 269,572 268,571 268,565 265,563 260,563 249,559 245,559 243,560 241,563 240,576 234,583 216,583 212,587 207,597 204,600 200,602 190,602 189,601 185,601 184,600 174,600 170,602 167,605 163,614 156,620 140,620 139,619 133,619 132,620 123,620 122,619 98,620 91,614 87,605 83,601 67,601 65,600 61,596 57,587 47,578 42,569 31,558 29,553 24,546 19,544 13,544 12,545 0,545 0,769 769,769ZM211,622 218,616 222,616 223,615 231,616 235,618 239,623 239,626 240,627 239,633 236,637 230,640 219,640 218,639 216,639 214,638 210,633 209,628 210,627ZM600,599 603,602 603,610 602,611 602,613 594,622 592,626 589,636 586,638 582,632 582,628 581,627 581,618 582,617 582,611 583,610 584,602 586,600 589,600 590,599ZM585,572 585,574 586,575 586,583 585,584 584,595 581,599 576,600 572,602 569,606 569,614 571,619 571,626 570,628 567,631 561,634 559,634 549,638 545,638 539,635 531,635 527,637 524,642 525,647 527,649 537,653 541,657 543,661 544,673 543,674 543,676 540,679 538,679 537,680 506,680 497,684 492,688 484,691 457,691 456,690 453,690 447,687 442,686 430,680 424,679 423,678 394,679 387,676 382,672 370,672 369,673 365,673 359,670 356,667 354,663 354,660 353,659 353,648 354,647 354,643 355,642 356,637 361,632 366,631 367,630 386,629 387,630 397,630 398,631 401,631 405,633 410,638 413,643 415,643 416,644 421,644 422,643 426,643 427,642 444,642 445,643 458,643 459,642 468,642 469,643 501,643 505,641 508,636 508,631 509,630 510,625 513,621 522,613 526,606 537,596 539,592 539,587 540,586 539,571 536,567 534,567 530,565 525,560 524,553 523,552 523,547 525,544 532,544 534,545 538,549 540,553 542,561 545,563 549,562 552,559 556,550 560,546 564,546 569,550 576,562Z"/>
<path transform="translate(-1,-1)" fill="#FF5533" fill-rule="evenodd" d="M104,763 104,769 137,769 137,758 134,752 130,748 124,745 117,746 113,749 113,750 108,755ZM609,768 609,769 741,769 741,767 735,761 730,752 726,748 717,744 714,744 713,743 706,742 705,741 701,741 700,740 652,740 651,741 646,741 641,743 637,743 636,744 631,745 624,749 615,762Z"/>
</svg>
<svg width="768" height="768" viewBox="0 0 768 768">
<g class="c">
<path d="M0.0,40.7 10.0,46.7 21.7,56.7 30.0,64.3 36.0,68.3 43.3,66.0 45.0,71.7 39.3,70.0 36.0,68.3"/>
<path d="M45.0,71.7 55.0,81.7 65.0,93.3 75.0,100.0 86.0,109.3 87.3,116.7 100.0,120.7 101.7,135.0 97.7,140.0 100.0,146.7 90.7,156.0 95.0,160.0 96.7,170.0 93.3,180.0 95.0,192.7"/>
<path d="M40.0,0.0 39.3,16.7 30.0,30.0 31.7,40.0 26.7,50.0 33.3,65.0"/>
<path d="M99.0,0.0 111.0,9.0 125.0,11.0 135.0,5.0 140.0,0.0"/>
<path d="M168.0,0.0 173.0,5.0 172.0,20.0 163.0,28.0 147.0,37.0 133.0,43.0 131.0,53.0 123.0,60.0 112.0,62.0 110.0,50.0 110.0,41.0"/>
<path d="M110.0,41.0 102.0,54.0 101.0,60.0 94.0,69.0 95.0,75.0 82.0,94.0 87.0,100.0 87.0,112.0"/>
<path d="M133.0,43.0 133.0,55.0 140.0,67.0 147.0,77.0 160.0,87.0 164.0,105.0 163.0,117.0 160.0,127.0 157.0,143.0 160.0,152.0 158.0,163.0 163.0,180.0 166.0,192.0 173.0,197.0 190.0,203.0"/>
<path d="M164.0,105.0 177.0,97.0 190.0,90.0 202.0,87.0"/>
<path d="M320.0,0.0 317.0,8.8 309.5,20.0 302.0,26.2 289.5,28.8 283.2,35.0 285.8,47.5 289.5,58.8 285.8,70.0 278.2,77.5"/>
<path d="M278.2,77.5 273.2,73.8 264.5,76.2 252.0,75.0 239.5,80.0 224.5,83.8 217.0,83.8 209.5,87.5 210.8,96.2 203.2,86.2 192.0,91.2"/>
<path d="M224.5,83.8 227.0,72.5 233.2,62.5 239.5,50.0 235.8,45.0 227.0,41.2 218.2,40.0 217.0,31.2 207.0,23.8 192.0,10.0 182.0,5.0"/>
<path d="M278.2,77.5 288.2,90.0 299.5,98.8 308.2,101.2 312.0,112.5 317.0,123.8 315.8,140.0 316.2,161.2"/>
<path d="M316.2,161.2 327.0,162.5 334.5,157.5 344.5,157.5 354.5,156.2 362.0,155.0 372.0,152.5 379.5,150.0 384.0,152.5"/>
<path d="M362.0,155.5 364.5,166.2 372.0,175.0 378.2,180.0 384.0,185.0"/>
<path d="M316.2,161.2 304.5,162.5 302.0,170.0 299.5,177.5 290.8,178.8 279.5,180.0 267.0,177.5 255.8,178.8 249.5,183.8 245.8,192.0"/>
<path d="M384.0,151.2 389.0,145.0 396.5,146.2 400.2,142.5 406.5,145.0 416.5,142.5 419.0,148.8 426.5,153.8 434.0,160.0 437.8,156.2 449.0,158.8 459.0,166.2 465.2,170.0 474.0,166.2 482.8,163.8 491.5,165.0 500.2,161.2 509.0,162.5 516.5,160.0 521.5,155.0 521.5,145.0 517.8,136.2 515.2,131.2 520.2,127.5 529.0,127.5 534.0,123.8"/>
<path d="M534.0,123.8 539.0,120.0 546.5,118.8 547.8,110.0 554.0,107.5 564.0,107.5 571.5,102.5 576.0,100.0"/>
<path d="M534.0,123.8 537.8,127.5 544.0,133.8 549.0,138.8 550.2,147.5 551.0,157.5 545.2,162.5 537.8,166.2 534.0,171.2 532.8,180.0 531.5,192.0"/>
<path d="M635.5,0.0 636.0,5.0 634.0,26.2 632.2,37.5 626.0,46.2 616.0,50.0 607.2,60.0 606.0,66.2 611.0,65.5 613.5,64.5 617.2,66.2 621.0,67.5 622.2,73.8 626.0,80.0 632.2,90.0 638.5,98.8 641.5,106.2 638.5,115.0 643.5,127.5 647.2,136.2 658.5,145.0 671.0,152.5 683.5,160.0 696.0,165.0 711.0,169.5 726.0,171.2 746.0,175.0 768.0,178.8"/>
<path d="M576.0,100.0 581.0,98.8 588.5,96.2 593.5,95.0 598.5,100.0 603.5,105.0 611.0,112.5 618.5,107.5 626.0,108.0 633.5,106.2 640.5,106.2"/>
<path d="M711.0,169.5 708.5,177.5 706.0,185.0 702.2,192.0"/>
<path d="M190.0,202.5 200.0,201.2 212.5,198.8 222.5,200.0 232.5,196.2 240.0,197.5 243.8,193.8 250.0,182.5 257.5,178.8 267.5,176.2 275.0,177.5 286.2,180.0 297.5,177.5 302.5,170.0 306.2,162.5 315.0,161.2"/>
<path d="M190.0,202.5 191.2,211.2 193.8,222.5 187.5,232.5 180.0,236.2 176.2,246.2 171.2,252.5 168.8,262.5 161.2,267.5 152.5,270.0 150.0,273.8"/>
<path d="M176.2,246.2 186.2,255.0 190.0,270.0 195.0,277.5 197.5,286.2 206.2,290.0 203.8,300.0 200.0,305.0 203.8,315.0 207.5,325.0 213.8,330.0 215.5,342.0"/>
<path d="M206.2,290.0 215.0,286.2 225.0,287.5 235.0,286.2 246.2,287.5 248.8,280.0 255.0,272.5 262.5,260.0 266.2,252.5 260.0,242.5 253.8,235.0 248.8,227.5 246.2,217.5 238.8,213.8 237.5,205.0 243.8,201.2 240.0,197.5"/>
<path d="M262.5,260.0 267.5,262.5 271.2,266.2 275.0,262.5 278.8,267.5 286.2,277.5 292.5,280.0 300.0,278.8"/>
<path d="M96.2,192.0 90.0,197.0 88.8,204.5 83.8,217.0 88.8,223.2 93.8,225.8 90.0,232.0 85.0,238.2 86.2,242.0 91.2,245.8 95.0,253.2 105.0,259.5 115.0,267.0 120.0,272.0 123.8,279.5 125.0,287.0 128.8,292.0 127.5,299.5 132.5,302.0 138.8,304.5 137.5,312.0 143.8,315.8 142.5,322.0 148.8,328.2 155.0,333.2 160.0,342.0 166.2,345.8 172.5,352.0 177.5,357.0"/>
<path d="M88.8,198.2 96.2,193.2 95.0,198.2 89.5,200.0Z"/>
<path d="M0.0,219.5 3.8,227.0 12.5,234.5 21.2,245.8 27.5,254.5 32.5,264.5 31.2,268.2 26.2,277.0 25.0,288.2 22.5,290.8 15.0,288.2 6.2,282.0 0.0,274.5"/>
<path d="M105.0,293.2 110.0,290.8 117.5,289.5 123.8,293.2 117.5,298.2 118.8,307.0 122.5,312.0 123.8,319.5 132.5,322.0 135.0,325.8 127.5,324.5 120.0,320.8 115.0,312.0 112.5,304.5 107.5,300.8Z"/>
<path d="M136.2,337.0 140.0,339.5 138.8,342.0 135.0,339.5Z"/>
<path d="M150.0,274.0 148.0,278.2 151.2,288.2 146.2,292.0 145.0,299.5 138.8,304.5"/>
<path d="M264.5,258.2 269.5,263.2 274.5,262.0 278.2,268.2 285.8,278.2 293.2,280.8 300.8,279.5"/>
<path d="M358.2,224.5 354.5,217.0 347.0,219.5 342.0,224.5 335.8,229.5 338.2,239.5 335.8,247.0 333.2,254.5 337.0,264.5"/>
<path d="M314.5,220.8 309.5,222.0 302.0,229.5 294.5,234.5 295.8,242.0 292.0,254.5 294.5,267.0 300.8,279.5 307.0,288.2 312.0,297.0 317.0,307.0 324.5,314.5 332.0,324.5 337.0,334.5 342.0,342.0 335.8,347.0 328.2,352.0 322.0,354.5 318.2,357.0 322.0,360.0"/>
<path d="M309.5,334.5 317.0,329.5 327.0,332.0 330.8,337.0 324.5,344.5 322.0,352.0 317.0,354.5 312.0,347.0 309.5,339.5Z"/>
<path d="M314.5,220.8 317.0,227.0 309.5,232.0 312.0,238.2 322.0,245.8 332.0,250.8 342.0,253.2"/>
<path d="M345.8,340.8 350.8,339.5 352.0,343.2 347.0,345.0Z"/>
<path d="M358.2,340.8 364.5,345.8 367.0,349.5 363.2,349.5 358.2,344.5Z"/>
<path d="M375.8,337.0 379.5,333.2 380.8,335.8 377.0,344.5 374.5,343.2Z"/>
<path d="M214.5,344.5 222.0,339.5 229.5,337.0 237.0,342.0 242.0,347.0 250.8,352.0 258.2,348.2 267.0,342.0 272.0,338.2 278.2,342.0 283.2,347.0 288.2,348.2 289.5,354.5 299.5,355.8 309.5,358.2"/>
<path d="M215.0,342.0 214.5,344.5 215.8,354.5 222.0,362.0 229.5,368.2 232.0,377.0 227.0,384.0"/>
<path d="M192.0,354.5 197.0,352.0 202.0,357.0 200.8,364.5 195.8,367.0 192.0,364.5Z"/>
<path d="M391.2,195.0 395.0,200.0 402.5,203.8 405.0,198.8 412.5,195.0 418.8,193.8 422.5,198.8 430.0,200.0 437.5,197.5 445.0,193.8 452.5,190.0 457.5,188.8 458.8,193.8 466.2,196.2 475.0,196.2 485.0,198.8 495.0,200.0 505.0,201.2 513.8,203.8 516.2,208.8 515.0,215.0 516.2,222.5 522.0,225.0"/>
<path d="M391.2,195.0 387.5,203.8 380.0,207.5 371.2,208.8 365.0,211.2 363.8,218.8 367.5,225.0 375.0,228.8 376.2,232.5 372.5,236.2 376.2,237.5 383.8,236.2 390.0,243.8 396.2,250.0 402.5,256.2 408.8,261.2 406.2,263.8 400.0,261.2 393.8,255.0 387.5,248.8 382.5,242.5 377.5,243.8"/>
<path d="M365.0,246.2 371.2,243.0 377.5,244.5 382.5,248.8 383.8,257.5 385.0,267.5 383.8,277.5 378.8,276.2 373.8,270.0 370.0,262.5 366.2,255.0 363.8,250.0Z"/>
<path d="M341.2,252.5 346.2,250.0 353.8,253.8 360.0,262.5 365.0,272.5 367.5,279.5 362.5,280.5 355.0,277.0 347.5,273.8 343.0,278.0 341.2,270.0 343.8,262.5 340.5,257.5Z"/>
<path d="M315.0,247.5 325.0,248.8 330.0,250.0 335.0,251.2 341.2,252.5"/>
<path d="M416.2,215.0 420.0,208.8 426.2,206.2 431.2,208.8 433.8,215.0 432.5,221.2 427.5,225.0 422.5,223.8 418.8,220.0Z"/>
<path d="M476.2,233.8 482.5,230.5 490.0,232.5 492.5,237.0 487.5,240.5 480.0,238.8Z"/>
<path d="M490.0,260.0 496.2,256.2 505.0,253.8 510.5,257.5 511.2,262.5 505.0,265.0 496.2,265.5Z"/>
<path d="M450.0,275.0 457.5,273.8 465.0,276.2 472.5,273.8 476.2,271.2 475.0,277.5 471.2,282.5 471.2,290.0 467.5,291.2 463.8,285.0 460.0,290.0 453.8,286.2 451.2,280.0Z"/>
<path d="M445.5,313.8 449.5,310.0 451.2,312.5 448.0,318.0 445.5,317.0Z"/>
<path d="M510.5,287.5 516.2,286.2 517.5,290.0 512.5,290.5Z"/>
<path d="M387.0,328.0 390.0,327.0 390.5,330.5 387.5,331.2Z"/>
<path d="M377.5,336.2 381.2,333.8 380.0,340.0 377.0,341.2Z"/>
<path d="M531.5,192.0 531.5,197.0 524.0,202.0 514.0,204.5"/>
<path d="M514.0,204.5 515.2,214.5 516.5,222.0 526.5,223.2 539.0,222.0 554.0,219.0 562.8,220.0 564.5,224.5 556.5,229.5 546.5,234.5 534.0,242.0 527.8,245.8 529.0,254.5 527.8,262.0 524.0,268.2 531.5,263.2 539.0,257.0 549.0,248.2 559.0,239.5 566.5,232.0 576.0,227.0"/>
<path d="M576.0,232.0 569.0,237.0 559.0,245.8 549.0,254.5 539.0,264.5 529.0,272.0 522.8,274.5 521.5,284.5 520.2,292.0 522.8,299.5 519.0,307.0 516.5,317.0 529.0,315.8 544.0,313.2 559.0,310.8 570.2,308.2 571.5,314.5 564.0,324.5 556.5,332.0 551.5,334.5 559.0,339.5 564.0,349.5 570.2,357.0 566.5,364.5 571.5,367.0"/>
<path d="M501.5,337.0 506.5,333.2 516.5,330.8 526.5,327.0 535.2,328.2 539.0,335.8 544.0,342.0 549.0,352.0 546.5,358.2 536.5,358.2 526.5,354.5 522.8,350.8 526.5,345.8 529.0,340.8 522.8,342.0 519.0,348.2 516.5,350.8 509.0,347.0 504.0,342.0Z"/>
<path d="M412.8,359.5 416.5,358.2 419.0,363.2 421.5,368.2 426.5,370.8 425.2,375.8 420.2,374.5 415.2,368.2 411.5,364.5Z"/>
<path d="M386.5,328.2 389.5,327.0 390.2,330.8 387.0,331.5Z"/>
<path d="M510.2,287.0 515.2,285.8 517.8,289.5 512.8,290.8Z"/>
<path d="M607.0,194.0 612.0,191.0 620.0,188.0 632.0,186.0 642.0,183.0 655.0,184.0 669.0,187.0 680.0,190.0 692.0,192.0 702.0,191.0 706.0,186.0"/>
<path d="M607.2,192.0 603.5,202.0 596.0,212.0 587.2,219.5 576.0,224.5 566.0,229.5"/>
<path d="M566.0,242.0 576.0,239.5 583.5,235.8 593.5,235.8 597.2,242.0 606.0,244.5 616.0,247.0 626.0,244.5 633.5,240.8 646.0,240.8 658.5,240.8 671.0,240.8 681.0,243.2 693.5,242.0 706.0,243.2 712.2,238.2 709.8,234.5 701.0,233.2 692.2,230.8 692.2,227.0 698.5,223.2 708.5,219.5 718.5,217.0 726.0,215.8 733.5,213.2 746.0,212.0 756.0,210.8 763.5,212.0 762.2,209.5 751.0,208.2 738.5,209.0 728.5,209.5 723.5,205.8 719.8,200.8 714.8,195.8 708.5,192.0"/>
<path d="M609.8,220.8 613.5,218.2 621.0,219.0 622.2,223.2 616.0,225.8 611.0,224.5Z"/>
<path d="M621.0,232.0 626.0,229.5 633.5,230.0 639.8,233.2 642.2,237.0 637.2,240.8 629.8,241.5 624.8,238.2Z"/>
<path d="M613.0,233.2 616.0,232.0 617.2,235.0 614.0,236.0Z"/>
<path d="M158.5,336.0 166.0,343.5 173.5,351.0 177.2,359.8 178.5,351.0 183.5,348.5 191.0,352.2 197.2,351.0 198.5,358.5 203.5,363.5 202.2,367.2 194.8,364.8 188.5,366.0 182.2,363.5 179.8,366.0 182.2,373.5 186.0,379.8 183.5,386.0 189.8,389.8 194.8,396.0 198.5,394.8 197.2,402.2 201.0,411.0 209.8,412.2 216.0,408.5 213.5,399.8 218.5,403.5 221.0,411.0 226.0,411.0 236.0,410.5 246.0,406.0 256.0,406.0 268.5,409.8 279.8,408.5 282.2,402.2 288.0,408.5"/>
<path d="M216.0,422.2 221.0,424.8 232.2,423.5 241.0,416.0 248.5,411.0 258.5,413.5 271.0,417.2 288.0,421.0"/>
<path d="M216.0,422.2 211.0,431.0 206.0,438.5 199.8,446.0 198.5,449.8 206.0,454.8 212.2,461.0 211.0,467.2 218.5,469.8"/>
<path d="M279.8,422.2 278.5,436.0 271.0,446.0 268.5,453.5 258.5,456.0 248.5,451.0 242.2,456.0 242.2,471.0 248.5,477.2 254.8,481.0 246.0,488.5 237.2,489.8"/>
<path d="M213.5,336.0 218.5,346.0 216.0,357.2 223.5,361.0 231.0,368.5 238.5,376.0 246.0,379.8 254.8,377.2 256.0,386.0 254.8,396.0 248.5,403.5 243.5,407.2"/>
<path d="M231.0,336.0 236.0,339.8 242.2,348.5 251.0,353.5 261.0,349.8 268.5,341.0 276.0,338.5 288.0,346.0"/>
<path d="M163.5,389.8 164.8,381.0 168.5,373.5 173.5,369.8 177.2,373.5 176.0,382.2 178.5,388.5 174.8,389.8 171.0,386.0 167.2,391.0Z"/>
<path d="M149.8,424.8 152.2,416.0 154.8,409.8 159.8,411.0 162.2,402.2 167.2,399.8 171.0,402.2 173.5,411.0 169.8,412.2 168.5,418.5 176.0,422.2 179.8,428.5 176.0,432.2 167.2,429.8 161.0,431.0 157.2,424.8 153.5,419.8Z"/>
<path d="M171.0,397.2 173.5,401.0 176.0,408.5 173.5,412.2 171.0,407.2 169.8,401.0Z"/>
<path d="M167.2,449.8 172.2,444.8 176.0,449.8 183.5,452.2 187.2,457.2 191.0,462.2 184.8,461.0 182.2,467.2 176.0,463.5 171.0,457.2Z"/>
<path d="M251.0,528.0 252.2,521.0 258.5,517.2 268.5,519.8 271.0,528.0"/>
<path d="M309.2,369.8 311.8,364.8 320.5,361.0 325.5,354.8 338.0,353.5 346.8,359.8 351.8,368.5 359.2,376.0 368.0,377.2 378.0,382.2 390.5,383.5 396.8,393.5 398.0,401.0 396.8,408.5 400.5,416.0 406.8,422.2 420.5,427.2 421.8,434.8 415.5,441.0 408.0,438.5 403.0,432.2 396.8,428.5 395.5,421.0 389.2,413.5 384.2,406.0 373.0,407.2 363.0,406.0 358.0,398.5 351.8,392.2 344.2,388.5 338.0,379.8 331.8,376.0 325.5,371.0 318.0,368.5Z"/>
<path d="M288.0,361.0 293.0,362.2 299.2,366.0 303.0,373.5 295.5,369.8 288.0,368.5 283.0,364.8Z"/>
<path d="M303.0,373.5 313.0,377.2 323.0,376.0 325.5,383.5 331.8,386.0 338.0,389.8 340.5,396.0 348.0,398.5 354.2,404.8 360.5,411.0 370.5,411.0 383.0,411.0 386.8,416.0 390.5,422.2 386.8,429.8 383.8,434.8"/>
<path d="M428.0,442.2 433.0,438.5 440.5,446.0 445.5,453.5 448.0,458.5 444.2,463.5 438.0,458.5 433.0,451.0Z"/>
<path d="M446.8,466.0 453.0,464.8 460.5,468.5 465.0,472.2 463.0,476.0 455.5,474.8 449.2,471.0Z"/>
<path d="M467.5,481.0 471.8,478.5 476.8,481.0 474.2,485.5 468.5,486.0Z"/>
<path d="M401.8,471.0 404.2,465.5 408.5,464.8 409.2,469.8 405.5,476.0 401.8,476.5Z"/>
<path d="M426.8,469.8 430.5,468.5 431.8,471.5 428.0,472.5Z"/>
<path d="M408.0,486.0 410.5,481.0 414.2,483.5 413.0,489.8 409.2,494.8 407.5,491.0Z"/>
<path d="M440.0,481.0 443.5,478.5 445.5,483.5 443.5,489.0 440.0,489.8Z"/>
<path d="M270.0,398.3 280.0,403.3 285.0,407.5 289.2,414.2 291.7,410.0 296.7,407.5 300.0,412.5 305.8,416.7 309.2,420.8 315.0,422.5 320.0,421.7 325.0,424.2 333.3,425.0 330.0,430.8 325.0,432.5 317.5,432.5 312.5,435.0 309.2,438.3 305.0,435.8 296.7,431.7 288.3,428.3 280.0,425.8 270.0,423.3"/>
<path d="M310.0,437.5 313.3,435.8 317.0,438.7 315.8,442.5 311.7,443.7 308.3,441.3Z"/>
<path d="M315.8,442.5 320.8,446.7 320.0,450.0 325.0,452.0 328.3,447.5 330.0,443.7 335.0,441.7 340.0,441.3 345.8,440.0"/>
<path d="M345.8,440.0 348.3,436.7 353.3,435.8 357.5,435.0 358.3,439.2 355.0,442.5 353.3,445.8 349.2,447.5 346.7,444.2Z"/>
<path d="M358.3,440.0 363.3,443.7 366.7,448.3 370.0,453.3 375.0,455.3 378.3,460.0 381.7,465.8 386.7,466.7 389.2,461.7 388.3,455.0 386.7,448.3 385.0,440.0 383.3,433.3"/>
<path d="M335.0,425.0 338.3,419.2 343.3,418.3 344.2,421.7 348.3,420.8 350.0,425.0 354.2,428.3 358.3,426.7 360.0,420.0 361.7,415.8 366.7,413.3 373.3,412.5 380.0,413.3"/>
<path d="M325.0,452.0 328.3,457.5 330.0,460.0 328.3,464.2 331.7,466.7 333.3,470.0 338.3,472.5 342.5,468.3 345.8,469.2 343.3,473.3 345.8,476.7 351.7,477.5 353.3,480.0 352.5,483.3 348.3,485.8 343.3,487.5 338.3,489.2 335.8,491.7 330.0,492.5 326.7,490.0 324.2,488.3 326.7,485.8 325.0,482.5 322.5,480.8 319.2,475.8 313.3,475.0 310.8,476.7 306.7,472.5 304.2,471.7 301.7,474.2 302.5,479.2 305.0,485.0 307.5,490.8 310.0,496.7 311.7,501.7 313.3,508.3 317.5,515.0 320.0,521.7 320.8,528.0"/>
<path d="M330.0,471.7 335.0,478.3 341.7,482.5 348.3,484.2"/>
<path d="M346.7,457.5 355.8,456.7 354.2,460.0 351.7,465.0 349.2,462.5Z"/>
<path d="M344.2,494.2 350.0,490.8 357.5,489.2 356.7,491.7 350.8,494.2 345.8,495.8Z"/>
<path d="M325.0,497.5 330.0,498.3 329.2,500.0 325.8,499.2Z"/>
<path d="M219.5,470.0 227.0,477.5 233.2,487.5 229.5,497.5 228.2,507.5 233.2,517.5 237.0,527.5 237.0,536.2 242.0,535.0 248.2,538.8 253.2,536.2 250.8,527.5 252.0,521.2 258.2,517.5 264.5,517.5 267.0,525.0 274.5,532.5 278.2,540.0 280.8,550.0 279.5,558.8 287.0,567.5 288.2,555.0 290.8,545.0 294.5,536.2 302.0,535.0 308.2,538.8 309.5,546.2 315.8,552.5 322.0,558.8 328.2,565.0 332.0,563.8 328.2,556.2 324.5,550.0 323.2,541.2 327.0,536.2 322.0,526.2 319.5,517.5 314.5,510.0 312.0,500.0 308.2,490.0 304.5,480.0 302.0,473.8"/>
<path d="M314.5,570.0 319.5,568.8 323.2,573.8 327.0,578.8 323.2,582.5 322.0,587.5 315.8,585.0 313.2,577.5Z"/>
<path d="M337.0,607.0 339.5,608.8 341.5,612.5 339.0,611.2Z"/>
<path d="M239.5,540.5 241.2,540.5 241.2,542.2 239.5,542.2Z"/>
<path d="M348.2,525.5 349.8,525.5 349.8,527.0 348.2,527.0Z"/>
<path d="M353.8,653.5 355.0,646.0 357.5,638.5 358.8,629.8 362.5,637.2 366.2,634.8 367.5,624.8 370.0,626.0 371.2,634.8 380.0,636.0 387.5,637.2 388.8,632.2 393.8,630.5 397.0,634.8 393.8,638.5 398.8,644.8 405.0,649.8 415.0,648.5 425.0,647.2 435.0,646.0 442.5,644.0 450.0,644.8 452.5,649.8 460.0,651.0 470.0,650.5 476.2,653.5 485.0,651.0 495.0,649.8 500.0,653.5 496.2,659.8 495.0,666.0 500.0,668.5 506.2,666.0 512.5,662.2 520.0,661.0 526.2,659.8 532.0,652.2 533.0,651.0 533.8,654.8 532.5,658.5 533.2,662.2 532.0,666.0 527.5,672.2 526.2,676.0 520.0,676.0 510.0,673.5 500.0,674.8 490.0,676.0 480.0,677.2 470.0,678.5 460.0,679.8 450.0,681.0 440.0,682.2 431.2,682.2 430.0,669.8 420.0,666.0 410.0,663.5 400.0,663.5 390.0,662.2 380.0,662.2 370.0,659.8 360.0,657.2 353.8,653.5"/>
<path d="M387.0,688.5 391.2,687.2 392.5,691.5 388.8,691.5Z"/>
<path d="M653.8,563.8 652.5,570.0 655.0,576.2 650.0,583.8 645.0,590.0 643.8,595.0 637.5,597.5 631.2,602.5 627.5,607.5 623.8,606.2 622.5,600.0 623.8,592.5 621.2,587.5 625.0,582.5 632.5,576.2 640.0,570.0 647.5,566.2Z"/>
<path d="M587.5,613.8 590.0,612.5 589.5,620.0 587.5,626.2 590.0,632.5 591.2,638.8 587.5,641.2 586.2,645.0 582.5,643.8 581.2,638.8 583.8,632.5 581.2,628.8 583.8,622.5 585.0,617.5Z"/>
<path d="M566.2,647.5 571.2,644.5 576.2,643.8 575.0,647.0 570.0,649.5 567.0,650.0Z"/>
<path d="M571.2,538.8 576.2,532.5 585.0,527.5 593.8,527.0 597.5,528.8 591.2,532.5 583.8,536.2 578.8,540.0 575.0,543.8 571.2,542.5Z"/>
<path d="M561.2,503.8 566.2,503.8 568.0,511.2 572.5,515.0 578.8,515.0 579.5,522.5 573.8,525.0 570.0,522.5 568.8,515.0 565.0,511.2 562.5,507.5Z"/>
<path d="M615.0,498.5 615.0,500.0 611.2,505.0 605.0,508.8 597.5,507.5 591.2,511.2 590.0,517.5 593.8,521.2 597.5,516.2 610.0,517.5 620.0,519.5 630.0,518.0 642.5,516.2 655.0,515.0 661.2,516.2 653.8,518.8 646.2,522.5 642.5,527.5 643.8,533.8 647.5,536.2 643.8,540.0 640.0,537.5 630.0,535.0 622.5,536.2 615.0,537.5 605.0,540.0 600.0,543.8 603.8,546.2 612.5,546.2 620.0,543.8 627.5,540.0 637.5,541.2 645.0,543.8 642.5,550.0 640.0,552.5 643.8,553.8 647.5,547.5 652.5,542.5"/>
<path d="M625.0,550.0 630.0,547.5 632.5,552.5 630.0,557.0 626.2,555.5Z"/>
<path d="M595.0,562.5 598.8,561.2 603.8,565.0 602.5,568.8 597.5,567.0Z"/>
<path d="M583.8,551.2 587.5,550.0 589.5,553.0 586.2,554.5Z"/>
<path d="M608.2,580.0 615.0,579.5 615.0,582.5 608.8,582.5Z"/>
<path d="M528.8,551.2 533.8,550.0 537.5,548.8 541.2,551.2 537.5,553.8 533.8,558.8 530.0,557.5Z"/>
<path d="M495.0,535.0 501.2,531.2 507.5,527.5 512.5,525.0 515.0,527.5 508.8,531.2 503.8,535.0 497.5,538.0Z"/>
<path d="M768.0,515.0 776.7,513.3"/>
<path d="M647.5,540.0 651.7,536.7 656.7,539.2 655.8,535.0 660.0,532.5 665.0,530.8 669.2,529.2 670.0,533.3 675.0,534.2 679.2,535.8 679.2,541.7 683.3,543.3 688.3,542.5 691.7,546.7 694.2,550.0 695.8,545.0 697.5,540.8 700.8,539.7 705.0,541.7 709.2,544.2 710.8,548.3 706.7,550.0 705.8,554.2 710.0,555.0 711.7,560.0 710.8,565.8 713.3,569.2 718.3,571.7 723.3,575.0 726.7,580.0 730.0,578.3 733.3,580.8 740.0,582.5 745.0,585.0 746.7,587.5 750.8,585.8 755.0,586.7 759.2,583.3 764.2,581.7 768.0,581.3"/>
<path d="M558.8,336.0 563.8,343.5 562.5,353.5 566.2,361.0 575.0,363.5 580.0,366.0 573.8,371.0 566.2,376.0 560.0,381.0 558.8,386.0 563.8,389.8 565.0,396.0 572.5,401.0 580.0,401.5 586.2,402.2 580.0,406.0 572.5,407.2 565.0,408.5 560.0,406.0 556.2,409.8 555.0,413.5 550.0,411.0 551.2,403.5 547.5,399.8 545.0,394.8 542.5,388.5 537.5,384.8 533.8,389.8 535.0,398.5 537.5,406.0 533.8,411.0 528.8,414.8 535.0,418.5 542.5,422.2 550.0,428.5 552.5,422.2 560.0,421.0 565.0,426.0 568.8,432.2 575.0,436.0 582.5,438.5 590.0,439.8 593.8,444.8 592.5,453.5 590.0,459.8 582.5,463.5 580.0,467.2 585.0,472.2 588.8,478.5 587.5,486.0 592.5,491.0 600.0,488.5 605.0,492.2 608.8,497.2 615.0,498.5"/>
<path d="M501.2,392.2 507.5,389.8 516.2,389.8 521.2,393.5 520.0,401.0 521.2,411.0 518.8,418.5 515.0,422.2 510.0,424.8 505.0,419.8 503.8,416.0 507.5,411.0 510.0,403.5 506.2,398.5 501.2,396.0Z"/>
<path d="M550.0,459.8 555.0,456.0 562.5,453.5 570.0,453.5 576.2,456.0 580.0,459.8 576.2,463.5 568.8,466.0 563.8,467.2 557.5,464.8 552.5,463.5Z"/>
<path d="M510.0,477.2 515.0,471.0 523.8,466.0 532.5,464.0 535.5,464.8 528.8,471.0 520.0,474.8 513.8,478.0Z"/>
<path d="M482.5,389.8 486.2,388.5 488.0,392.2 485.0,394.8 482.5,393.0Z"/>
<path d="M546.2,489.8 549.5,489.0 550.0,494.8 547.0,496.0Z"/>
<path d="M472.5,511.0 477.5,506.0 482.5,503.5 485.5,508.5 483.8,516.0 480.0,523.5 475.0,524.8 472.0,518.5Z"/>
<path d="M498.0,509.8 501.2,509.0 501.8,512.2 498.8,513.0Z"/>
<path d="M450.2,518.8 455.2,512.5 461.5,507.5 466.5,508.0 465.2,515.0 459.0,517.5 455.2,522.5 451.5,522.5Z"/>
<path d="M425.2,516.2 429.0,515.0 432.0,521.2 432.8,526.2 428.5,527.0 426.0,521.2Z"/>
<path d="M411.0,505.0 415.2,503.0 418.5,505.5 417.0,510.0 412.0,510.5Z"/>
<path d="M405.2,541.2 409.0,538.8 414.0,537.5 419.0,532.5 422.8,533.8 421.5,538.8 417.8,540.0 419.0,543.8 414.0,546.2 407.8,547.0 405.2,545.0Z"/>
<path d="M437.8,547.0 441.0,546.2 444.0,550.0 444.8,553.0 441.5,552.0Z"/>
<path d="M452.0,547.5 455.2,543.8 459.0,541.2 458.5,545.0 454.5,548.8Z"/>
<path d="M464.5,537.5 469.0,536.2 472.8,541.2 473.5,546.2 469.0,545.5 465.2,541.2Z"/>
<path d="M471.5,561.2 475.2,562.5 478.5,566.2 478.5,570.5 474.5,572.0 476.0,568.0 474.5,564.5Z"/>
<path d="M494.8,568.0 498.5,567.5 502.0,570.0 499.0,572.0 495.2,570.5Z"/>
<path d="M497.8,509.5 501.0,508.8 501.5,512.0 498.5,512.5Z"/>
<path d="M486.5,527.5 490.2,527.0 491.0,529.5 487.0,530.0Z"/>
<path d="M475.2,531.2 478.5,530.0 477.8,533.8 474.5,534.5Z"/>
<path d="M406.5,493.8 410.2,490.0 412.0,492.0 408.5,495.5Z"/>
</g>
<g class="n">
<text x="2.2" y="8.2">5</text><text x="17.2" y="8.2">3</text><text x="32.2" y="8.2">2</text><text x="47.2" y="8.2">3</text><text x="62.2" y="8.2">2</text><text x="77.2" y="8.2">2</text><text x="92.2" y="8.2">2</text><text x="107.2" y="8.2">1</text><text x="122.2" y="8.2">1</text><text x="137.2" y="8.2">0</text><text x="152.2" y="8.2">1</text><text x="167.2" y="8.2">2</text><text x="182.2" y="8.2">1</text><text x="197.2" y="8.2">2</text><text x="212.2" y="8.2">4</text><text x="227.2" y="8.2">4</text><text x="242.2" y="8.2">5</text><text x="257.2" y="8.2">4</text><text x="272.2" y="8.2">3</text><text x="287.2" y="8.2">3</text><text x="302.2" y="8.2">2</text><text x="317.2" y="8.2">2</text><text x="332.2" y="8.2">6</text><text x="347.2" y="8.2">7</text><text x="362.2" y="8.2">8</text><text x="377.2" y="8.2">8</text><text x="392.2" y="8.2">8</text><text x="407.2" y="8.2">9</text><text x="422.2" y="8.2">9</text><text x="437.2" y="8.2">9</text><text x="452.2" y="8.2">9</text><text x="467.2" y="8.2">9</text><text x="482.2" y="8.2">10</text><text x="497.2" y="8.2">10</text><text x="512.2" y="8.2">9</text><text x="527.2" y="8.2">8</text><text x="542.2" y="8.2">8</text><text x="557.2" y="8.2">9</text><text x="572.2" y="8.2">10</text><text x="587.2" y="8.2">11</text><text x="602.2" y="8.2">11</text><text x="617.2" y="8.2">11</text><text x="632.2" y="8.2">12</text><text x="647.2" y="8.2">13</text><text x="662.2" y="8.2">13</text><text x="677.2" y="8.2">14</text><text x="692.2" y="8.2">14</text><text x="707.2" y="8.2">14</text><text x="722.2" y="8.2">14</text><text x="737.2" y="8.2">14</text><text x="752.2" y="8.2">14</text>
<text x="2.2" y="28.7">7</text><text x="17.2" y="28.7">6</text><text x="32.2" y="28.7">5</text><text x="47.2" y="28.7">5</text><text x="62.2" y="28.7">5</text><text x="77.2" y="28.7">3</text><text x="92.2" y="28.7">3</text><text x="107.2" y="28.7">1</text><text x="122.2" y="28.7">2</text><text x="137.2" y="28.7">1</text><text x="152.2" y="28.7">1</text><text x="167.2" y="28.7">1</text><text x="182.2" y="28.7">2</text><text x="197.2" y="28.7">3</text><text x="212.2" y="28.7">3</text><text x="227.2" y="28.7">3</text><text x="242.2" y="28.7">5</text><text x="257.2" y="28.7">5</text><text x="272.2" y="28.7">3</text><text x="287.2" y="28.7">2</text><text x="302.2" y="28.7">3</text><text x="317.2" y="28.7">4</text><text x="332.2" y="28.7">5</text><text x="347.2" y="28.7">6</text><text x="362.2" y="28.7">7</text><text x="377.2" y="28.7">7</text><text x="392.2" y="28.7">7</text><text x="407.2" y="28.7">6</text><text x="422.2" y="28.7">7</text><text x="437.2" y="28.7">8</text><text x="452.2" y="28.7">9</text><text x="467.2" y="28.7">9</text><text x="482.2" y="28.7">8</text><text x="497.2" y="28.7">8</text><text x="512.2" y="28.7">7</text><text x="527.2" y="28.7">7</text><text x="542.2" y="28.7">7</text><text x="557.2" y="28.7">8</text><text x="572.2" y="28.7">9</text><text x="587.2" y="28.7">9</text><text x="602.2" y="28.7">9</text><text x="617.2" y="28.7">10</text><text x="632.2" y="28.7">11</text><text x="647.2" y="28.7">13</text><text x="662.2" y="28.7">14</text><text x="677.2" y="28.7">14</text><text x="692.2" y="28.7">14</text><text x="707.2" y="28.7">14</text><text x="722.2" y="28.7">14</text><text x="737.2" y="28.7">14</text><text x="752.2" y="28.7">14</text>
<text x="2.2" y="49.1">9</text><text x="17.2" y="49.1">8</text><text x="32.2" y="49.1">6</text><text x="47.2" y="49.1">5</text><text x="62.2" y="49.1">4</text><text x="77.2" y="49.1">3</text><text x="92.2" y="49.1">3</text><text x="107.2" y="49.1">3</text><text x="122.2" y="49.1">3</text><text x="137.2" y="49.1">2</text><text x="152.2" y="49.1">3</text><text x="167.2" y="49.1">2</text><text x="182.2" y="49.1">3</text><text x="197.2" y="49.1">3</text><text x="212.2" y="49.1">3</text><text x="227.2" y="49.1">3</text><text x="242.2" y="49.1">3</text><text x="257.2" y="49.1">3</text><text x="272.2" y="49.1">1</text><text x="287.2" y="49.1">1</text><text x="302.2" y="49.1">3</text><text x="317.2" y="49.1">5</text><text x="332.2" y="49.1">7</text><text x="347.2" y="49.1">7</text><text x="362.2" y="49.1">7</text><text x="377.2" y="49.1">6</text><text x="392.2" y="49.1">5</text><text x="407.2" y="49.1">4</text><text x="422.2" y="49.1">5</text><text x="437.2" y="49.1">4</text><text x="452.2" y="49.1">4</text><text x="467.2" y="49.1">6</text><text x="482.2" y="49.1">6</text><text x="497.2" y="49.1">6</text><text x="512.2" y="49.1">8</text><text x="527.2" y="49.1">7</text><text x="542.2" y="49.1">8</text><text x="557.2" y="49.1">9</text><text x="572.2" y="49.1">10</text><text x="587.2" y="49.1">10</text><text x="602.2" y="49.1">10</text><text x="617.2" y="49.1">10</text><text x="632.2" y="49.1">12</text><text x="647.2" y="49.1">13</text><text x="662.2" y="49.1">14</text><text x="677.2" y="49.1">14</text><text x="692.2" y="49.1">14</text><text x="707.2" y="49.1">14</text><text x="722.2" y="49.1">14</text><text x="737.2" y="49.1">14</text><text x="752.2" y="49.1">14</text>
<text x="2.2" y="69.4">16</text><text x="17.2" y="69.4">17</text><text x="32.2" y="69.4">15</text><text x="47.2" y="69.4">8</text><text x="62.2" y="69.4">8</text><text x="77.2" y="69.4">10</text><text x="92.2" y="69.4">6</text><text x="107.2" y="69.4">4</text><text x="122.2" y="69.4">3</text><text x="137.2" y="69.4">3</text><text x="152.2" y="69.4">7</text><text x="167.2" y="69.4">7</text><text x="182.2" y="69.4">4</text><text x="197.2" y="69.4">4</text><text x="212.2" y="69.4">4</text><text x="227.2" y="69.4">5</text><text x="242.2" y="69.4">4</text><text x="257.2" y="69.4">3</text><text x="272.2" y="69.4">1</text><text x="287.2" y="69.4">3</text><text x="302.2" y="69.4">5</text><text x="317.2" y="69.4">6</text><text x="332.2" y="69.4">5</text><text x="347.2" y="69.4">5</text><text x="362.2" y="69.4">6</text><text x="377.2" y="69.4">7</text><text x="392.2" y="69.4">9</text><text x="407.2" y="69.4">10</text><text x="422.2" y="69.4">10</text><text x="437.2" y="69.4">11</text><text x="452.2" y="69.4">8</text><text x="467.2" y="69.4">9</text><text x="482.2" y="69.4">9</text><text x="497.2" y="69.4">11</text><text x="512.2" y="69.4">11</text><text x="527.2" y="69.4">11</text><text x="542.2" y="69.4">11</text><text x="557.2" y="69.4">10</text><text x="572.2" y="69.4">11</text><text x="587.2" y="69.4">12</text><text x="602.2" y="69.4">12</text><text x="617.2" y="69.4">13</text><text x="632.2" y="69.4">14</text><text x="647.2" y="69.4">14</text><text x="662.2" y="69.4">15</text><text x="677.2" y="69.4">15</text><text x="692.2" y="69.4">15</text><text x="707.2" y="69.4">14</text><text x="722.2" y="69.4">14</text><text x="737.2" y="69.4">14</text><text x="752.2" y="69.4">15</text>
<text x="2.2" y="89.6">16</text><text x="17.2" y="89.6">17</text><text x="32.2" y="89.6">16</text><text x="47.2" y="89.6">16</text><text x="62.2" y="89.6">11</text><text x="77.2" y="89.6">8</text><text x="92.2" y="89.6">11</text><text x="107.2" y="89.6">7</text><text x="122.2" y="89.6">5</text><text x="137.2" y="89.6">6</text><text x="152.2" y="89.6">3</text><text x="167.2" y="89.6">3</text><text x="182.2" y="89.6">3</text><text x="197.2" y="89.6">3</text><text x="212.2" y="89.6">3</text><text x="227.2" y="89.6">4</text><text x="242.2" y="89.6">5</text><text x="257.2" y="89.6">4</text><text x="272.2" y="89.6">5</text><text x="287.2" y="89.6">3</text><text x="302.2" y="89.6">5</text><text x="317.2" y="89.6">7</text><text x="332.2" y="89.6">5</text><text x="347.2" y="89.6">3</text><text x="362.2" y="89.6">3</text><text x="377.2" y="89.6">6</text><text x="392.2" y="89.6">10</text><text x="407.2" y="89.6">12</text><text x="422.2" y="89.6">12</text><text x="437.2" y="89.6">12</text><text x="452.2" y="89.6">11</text><text x="467.2" y="89.6">11</text><text x="482.2" y="89.6">11</text><text x="497.2" y="89.6">11</text><text x="512.2" y="89.6">11</text><text x="527.2" y="89.6">10</text><text x="542.2" y="89.6">11</text><text x="557.2" y="89.6">11</text><text x="572.2" y="89.6">11</text><text x="587.2" y="89.6">10</text><text x="602.2" y="89.6">11</text><text x="617.2" y="89.6">12</text><text x="632.2" y="89.6">14</text><text x="647.2" y="89.6">15</text><text x="662.2" y="89.6">15</text><text x="677.2" y="89.6">15</text><text x="692.2" y="89.6">15</text><text x="707.2" y="89.6">15</text><text x="722.2" y="89.6">15</text><text x="737.2" y="89.6">15</text><text x="752.2" y="89.6">15</text>
<text x="2.2" y="109.8">16</text><text x="17.2" y="109.8">16</text><text x="32.2" y="109.8">17</text><text x="47.2" y="109.8">16</text><text x="62.2" y="109.8">16</text><text x="77.2" y="109.8">12</text><text x="92.2" y="109.8">11</text><text x="107.2" y="109.8">8</text><text x="122.2" y="109.8">5</text><text x="137.2" y="109.8">3</text><text x="152.2" y="109.8">3</text><text x="167.2" y="109.8">2</text><text x="182.2" y="109.8">2</text><text x="197.2" y="109.8">5</text><text x="212.2" y="109.8">6</text><text x="227.2" y="109.8">7</text><text x="242.2" y="109.8">6</text><text x="257.2" y="109.8">5</text><text x="272.2" y="109.8">6</text><text x="287.2" y="109.8">6</text><text x="302.2" y="109.8">6</text><text x="317.2" y="109.8">6</text><text x="332.2" y="109.8">6</text><text x="347.2" y="109.8">4</text><text x="362.2" y="109.8">5</text><text x="377.2" y="109.8">6</text><text x="392.2" y="109.8">6</text><text x="407.2" y="109.8">7</text><text x="422.2" y="109.8">7</text><text x="437.2" y="109.8">9</text><text x="452.2" y="109.8">10</text><text x="467.2" y="109.8">11</text><text x="482.2" y="109.8">11</text><text x="497.2" y="109.8">11</text><text x="512.2" y="109.8">11</text><text x="527.2" y="109.8">10</text><text x="542.2" y="109.8">10</text><text x="557.2" y="109.8">10</text><text x="572.2" y="109.8">10</text><text x="587.2" y="109.8">9</text><text x="602.2" y="109.8">9</text><text x="617.2" y="109.8">11</text><text x="632.2" y="109.8">12</text><text x="647.2" y="109.8">15</text><text x="662.2" y="109.8">15</text><text x="677.2" y="109.8">15</text><text x="692.2" y="109.8">15</text><text x="707.2" y="109.8">15</text><text x="722.2" y="109.8">15</text><text x="737.2" y="109.8">15</text><text x="752.2" y="109.8">15</text>
<text x="2.2" y="130.0">16</text><text x="17.2" y="130.0">16</text><text x="32.2" y="130.0">17</text><text x="47.2" y="130.0">16</text><text x="62.2" y="130.0">15</text><text x="77.2" y="130.0">14</text><text x="92.2" y="130.0">14</text><text x="107.2" y="130.0">9</text><text x="122.2" y="130.0">7</text><text x="137.2" y="130.0">4</text><text x="152.2" y="130.0">4</text><text x="167.2" y="130.0">3</text><text x="182.2" y="130.0">4</text><text x="197.2" y="130.0">4</text><text x="212.2" y="130.0">3</text><text x="227.2" y="130.0">5</text><text x="242.2" y="130.0">7</text><text x="257.2" y="130.0">7</text><text x="272.2" y="130.0">6</text><text x="287.2" y="130.0">5</text><text x="302.2" y="130.0">4</text><text x="317.2" y="130.0">5</text><text x="332.2" y="130.0">6</text><text x="347.2" y="130.0">3</text><text x="362.2" y="130.0">6</text><text x="377.2" y="130.0">5</text><text x="392.2" y="130.0">5</text><text x="407.2" y="130.0">6</text><text x="422.2" y="130.0">5</text><text x="437.2" y="130.0">6</text><text x="452.2" y="130.0">8</text><text x="467.2" y="130.0">9</text><text x="482.2" y="130.0">10</text><text x="497.2" y="130.0">10</text><text x="512.2" y="130.0">11</text><text x="527.2" y="130.0">10</text><text x="542.2" y="130.0">12</text><text x="557.2" y="130.0">12</text><text x="572.2" y="130.0">12</text><text x="587.2" y="130.0">12</text><text x="602.2" y="130.0">11</text><text x="617.2" y="130.0">10</text><text x="632.2" y="130.0">11</text><text x="647.2" y="130.0">15</text><text x="662.2" y="130.0">15</text><text x="677.2" y="130.0">15</text><text x="692.2" y="130.0">15</text><text x="707.2" y="130.0">15</text><text x="722.2" y="130.0">15</text><text x="737.2" y="130.0">15</text><text x="752.2" y="130.0">15</text>
<text x="2.2" y="150.0">17</text><text x="17.2" y="150.0">17</text><text x="32.2" y="150.0">16</text><text x="47.2" y="150.0">16</text><text x="62.2" y="150.0">16</text><text x="77.2" y="150.0">15</text><text x="92.2" y="150.0">15</text><text x="107.2" y="150.0">11</text><text x="122.2" y="150.0">8</text><text x="137.2" y="150.0">6</text><text x="152.2" y="150.0">6</text><text x="167.2" y="150.0">5</text><text x="182.2" y="150.0">5</text><text x="197.2" y="150.0">5</text><text x="212.2" y="150.0">7</text><text x="227.2" y="150.0">6</text><text x="242.2" y="150.0">7</text><text x="257.2" y="150.0">8</text><text x="272.2" y="150.0">7</text><text x="287.2" y="150.0">6</text><text x="302.2" y="150.0">6</text><text x="317.2" y="150.0">6</text><text x="332.2" y="150.0">9</text><text x="347.2" y="150.0">8</text><text x="362.2" y="150.0">8</text><text x="377.2" y="150.0">9</text><text x="392.2" y="150.0">7</text><text x="407.2" y="150.0">6</text><text x="422.2" y="150.0">6</text><text x="437.2" y="150.0">7</text><text x="452.2" y="150.0">8</text><text x="467.2" y="150.0">10</text><text x="482.2" y="150.0">10</text><text x="497.2" y="150.0">10</text><text x="512.2" y="150.0">11</text><text x="527.2" y="150.0">12</text><text x="542.2" y="150.0">13</text><text x="557.2" y="150.0">12</text><text x="572.2" y="150.0">13</text><text x="587.2" y="150.0">13</text><text x="602.2" y="150.0">13</text><text x="617.2" y="150.0">12</text><text x="632.2" y="150.0">12</text><text x="647.2" y="150.0">13</text><text x="662.2" y="150.0">14</text><text x="677.2" y="150.0">15</text><text x="692.2" y="150.0">15</text><text x="707.2" y="150.0">15</text><text x="722.2" y="150.0">15</text><text x="737.2" y="150.0">15</text><text x="752.2" y="150.0">15</text>
<text x="2.2" y="170.0">17</text><text x="17.2" y="170.0">17</text><text x="32.2" y="170.0">17</text><text x="47.2" y="170.0">16</text><text x="62.2" y="170.0">16</text><text x="77.2" y="170.0">16</text><text x="92.2" y="170.0">15</text><text x="107.2" y="170.0">12</text><text x="122.2" y="170.0">10</text><text x="137.2" y="170.0">7</text><text x="152.2" y="170.0">7</text><text x="167.2" y="170.0">6</text><text x="182.2" y="170.0">5</text><text x="197.2" y="170.0">4</text><text x="212.2" y="170.0">6</text><text x="227.2" y="170.0">6</text><text x="242.2" y="170.0">5</text><text x="257.2" y="170.0">6</text><text x="272.2" y="170.0">6</text><text x="287.2" y="170.0">8</text><text x="302.2" y="170.0">7</text><text x="317.2" y="170.0">7</text><text x="332.2" y="170.0">9</text><text x="347.2" y="170.0">9</text><text x="362.2" y="170.0">9</text><text x="377.2" y="170.0">8</text><text x="392.2" y="170.0">9</text><text x="407.2" y="170.0">11</text><text x="422.2" y="170.0">10</text><text x="437.2" y="170.0">9</text><text x="452.2" y="170.0">10</text><text x="467.2" y="170.0">10</text><text x="482.2" y="170.0">10</text><text x="497.2" y="170.0">10</text><text x="512.2" y="170.0">10</text><text x="527.2" y="170.0">12</text><text x="542.2" y="170.0">13</text><text x="557.2" y="170.0">13</text><text x="572.2" y="170.0">13</text><text x="587.2" y="170.0">13</text><text x="602.2" y="170.0">13</text><text x="617.2" y="170.0">13</text><text x="632.2" y="170.0">13</text><text x="647.2" y="170.0">12</text><text x="662.2" y="170.0">13</text><text x="677.2" y="170.0">14</text><text x="692.2" y="170.0">14</text><text x="707.2" y="170.0">15</text><text x="722.2" y="170.0">15</text><text x="737.2" y="170.0">14</text><text x="752.2" y="170.0">14</text>
<text x="2.2" y="190.0">17</text><text x="17.2" y="190.0">17</text><text x="32.2" y="190.0">17</text><text x="47.2" y="190.0">17</text><text x="62.2" y="190.0">17</text><text x="77.2" y="190.0">16</text><text x="92.2" y="190.0">15</text><text x="107.2" y="190.0">13</text><text x="122.2" y="190.0">12</text><text x="137.2" y="190.0">10</text><text x="152.2" y="190.0">8</text><text x="167.2" y="190.0">10</text><text x="182.2" y="190.0">8</text><text x="197.2" y="190.0">6</text><text x="212.2" y="190.0">6</text><text x="227.2" y="190.0">6</text><text x="242.2" y="190.0">4</text><text x="257.2" y="190.0">5</text><text x="272.2" y="190.0">7</text><text x="287.2" y="190.0">9</text><text x="302.2" y="190.0">10</text><text x="317.2" y="190.0">9</text><text x="332.2" y="190.0">10</text><text x="347.2" y="190.0">12</text><text x="362.2" y="190.0">12</text><text x="377.2" y="190.0">12</text><text x="392.2" y="190.0">13</text><text x="407.2" y="190.0">12</text><text x="422.2" y="190.0">12</text><text x="437.2" y="190.0">14</text><text x="452.2" y="190.0">14</text><text x="467.2" y="190.0">14</text><text x="482.2" y="190.0">14</text><text x="497.2" y="190.0">12</text><text x="512.2" y="190.0">11</text><text x="527.2" y="190.0">13</text><text x="542.2" y="190.0">13</text><text x="557.2" y="190.0">13</text><text x="572.2" y="190.0">13</text><text x="587.2" y="190.0">13</text><text x="602.2" y="190.0">13</text><text x="617.2" y="190.0">13</text><text x="632.2" y="190.0">14</text><text x="647.2" y="190.0">14</text><text x="662.2" y="190.0">14</text><text x="677.2" y="190.0">14</text><text x="692.2" y="190.0">14</text><text x="707.2" y="190.0">15</text><text x="722.2" y="190.0">13</text><text x="737.2" y="190.0">13</text><text x="752.2" y="190.0">13</text>
<text x="2.2" y="209.8">17</text><text x="17.2" y="209.8">17</text><text x="32.2" y="209.8">17</text><text x="47.2" y="209.8">17</text><text x="62.2" y="209.8">17</text><text x="77.2" y="209.8">17</text><text x="92.2" y="209.8">15</text><text x="107.2" y="209.8">13</text><text x="122.2" y="209.8">13</text><text x="137.2" y="209.8">10</text><text x="152.2" y="209.8">8</text><text x="167.2" y="209.8">8</text><text x="182.2" y="209.8">9</text><text x="197.2" y="209.8">9</text><text x="212.2" y="209.8">6</text><text x="227.2" y="209.8">6</text><text x="242.2" y="209.8">7</text><text x="257.2" y="209.8">10</text><text x="272.2" y="209.8">11</text><text x="287.2" y="209.8">11</text><text x="302.2" y="209.8">11</text><text x="317.2" y="209.8">10</text><text x="332.2" y="209.8">11</text><text x="347.2" y="209.8">10</text><text x="362.2" y="209.8">11</text><text x="377.2" y="209.8">12</text><text x="392.2" y="209.8">14</text><text x="407.2" y="209.8">16</text><text x="422.2" y="209.8">16</text><text x="437.2" y="209.8">16</text><text x="452.2" y="209.8">16</text><text x="467.2" y="209.8">16</text><text x="482.2" y="209.8">16</text><text x="497.2" y="209.8">15</text><text x="512.2" y="209.8">14</text><text x="527.2" y="209.8">13</text><text x="542.2" y="209.8">13</text><text x="557.2" y="209.8">13</text><text x="572.2" y="209.8">13</text><text x="587.2" y="209.8">12</text><text x="602.2" y="209.8">13</text><text x="617.2" y="209.8">14</text><text x="632.2" y="209.8">14</text><text x="647.2" y="209.8">14</text><text x="662.2" y="209.8">14</text><text x="677.2" y="209.8">14</text><text x="692.2" y="209.8">14</text><text x="707.2" y="209.8">14</text><text x="722.2" y="209.8">14</text><text x="737.2" y="209.8">13</text><text x="752.2" y="209.8">12</text>
<text x="2.2" y="229.6">17</text><text x="17.2" y="229.6">17</text><text x="32.2" y="229.6">17</text><text x="47.2" y="229.6">17</text><text x="62.2" y="229.6">17</text><text x="77.2" y="229.6">16</text><text x="92.2" y="229.6">14</text><text x="107.2" y="229.6">12</text><text x="122.2" y="229.6">10</text><text x="137.2" y="229.6">8</text><text x="152.2" y="229.6">6</text><text x="167.2" y="229.6">6</text><text x="182.2" y="229.6">7</text><text x="197.2" y="229.6">7</text><text x="212.2" y="229.6">6</text><text x="227.2" y="229.6">7</text><text x="242.2" y="229.6">6</text><text x="257.2" y="229.6">8</text><text x="272.2" y="229.6">11</text><text x="287.2" y="229.6">11</text><text x="302.2" y="229.6">11</text><text x="317.2" y="229.6">12</text><text x="332.2" y="229.6">11</text><text x="347.2" y="229.6">11</text><text x="362.2" y="229.6">11</text><text x="377.2" y="229.6">15</text><text x="392.2" y="229.6">17</text><text x="407.2" y="229.6">16</text><text x="422.2" y="229.6">15</text><text x="437.2" y="229.6">16</text><text x="452.2" y="229.6">16</text><text x="467.2" y="229.6">16</text><text x="482.2" y="229.6">16</text><text x="497.2" y="229.6">16</text><text x="512.2" y="229.6">15</text><text x="527.2" y="229.6">14</text><text x="542.2" y="229.6">15</text><text x="557.2" y="229.6">15</text><text x="572.2" y="229.6">14</text><text x="587.2" y="229.6">14</text><text x="602.2" y="229.6">14</text><text x="617.2" y="229.6">14</text><text x="632.2" y="229.6">14</text><text x="647.2" y="229.6">14</text><text x="662.2" y="229.6">14</text><text x="677.2" y="229.6">14</text><text x="692.2" y="229.6">14</text><text x="707.2" y="229.6">11</text><text x="722.2" y="229.6">12</text><text x="737.2" y="229.6">13</text><text x="752.2" y="229.6">11</text>
<text x="2.2" y="249.4">14</text><text x="17.2" y="249.4">15</text><text x="32.2" y="249.4">17</text><text x="47.2" y="249.4">17</text><text x="62.2" y="249.4">17</text><text x="77.2" y="249.4">17</text><text x="92.2" y="249.4">15</text><text x="107.2" y="249.4">11</text><text x="122.2" y="249.4">9</text><text x="137.2" y="249.4">8</text><text x="152.2" y="249.4">7</text><text x="167.2" y="249.4">6</text><text x="182.2" y="249.4">5</text><text x="197.2" y="249.4">7</text><text x="212.2" y="249.4">8</text><text x="227.2" y="249.4">6</text><text x="242.2" y="249.4">7</text><text x="257.2" y="249.4">8</text><text x="272.2" y="249.4">10</text><text x="287.2" y="249.4">11</text><text x="302.2" y="249.4">14</text><text x="317.2" y="249.4">13</text><text x="332.2" y="249.4">13</text><text x="347.2" y="249.4">12</text><text x="362.2" y="249.4">13</text><text x="377.2" y="249.4">16</text><text x="392.2" y="249.4">14</text><text x="407.2" y="249.4">17</text><text x="422.2" y="249.4">17</text><text x="437.2" y="249.4">16</text><text x="452.2" y="249.4">17</text><text x="467.2" y="249.4">16</text><text x="482.2" y="249.4">16</text><text x="497.2" y="249.4">15</text><text x="512.2" y="249.4">15</text><text x="527.2" y="249.4">15</text><text x="542.2" y="249.4">14</text><text x="557.2" y="249.4">14</text><text x="572.2" y="249.4">14</text><text x="587.2" y="249.4">14</text><text x="602.2" y="249.4">14</text><text x="617.2" y="249.4">14</text><text x="632.2" y="249.4">13</text><text x="647.2" y="249.4">13</text><text x="662.2" y="249.4">13</text><text x="677.2" y="249.4">15</text><text x="692.2" y="249.4">15</text><text x="707.2" y="249.4">14</text><text x="722.2" y="249.4">12</text><text x="737.2" y="249.4">13</text><text x="752.2" y="249.4">13</text>
<text x="2.2" y="269.1">13</text><text x="17.2" y="269.1">13</text><text x="32.2" y="269.1">15</text><text x="47.2" y="269.1">17</text><text x="62.2" y="269.1">17</text><text x="77.2" y="269.1">17</text><text x="92.2" y="269.1">17</text><text x="107.2" y="269.1">12</text><text x="122.2" y="269.1">8</text><text x="137.2" y="269.1">8</text><text x="152.2" y="269.1">7</text><text x="167.2" y="269.1">7</text><text x="182.2" y="269.1">6</text><text x="197.2" y="269.1">6</text><text x="212.2" y="269.1">9</text><text x="227.2" y="269.1">9</text><text x="242.2" y="269.1">8</text><text x="257.2" y="269.1">7</text><text x="272.2" y="269.1">7</text><text x="287.2" y="269.1">11</text><text x="302.2" y="269.1">14</text><text x="317.2" y="269.1">15</text><text x="332.2" y="269.1">16</text><text x="347.2" y="269.1">16</text><text x="362.2" y="269.1">17</text><text x="377.2" y="269.1">17</text><text x="392.2" y="269.1">17</text><text x="407.2" y="269.1">16</text><text x="422.2" y="269.1">16</text><text x="437.2" y="269.1">17</text><text x="452.2" y="269.1">16</text><text x="467.2" y="269.1">16</text><text x="482.2" y="269.1">16</text><text x="497.2" y="269.1">14</text><text x="512.2" y="269.1">15</text><text x="527.2" y="269.1">14</text><text x="542.2" y="269.1">14</text><text x="557.2" y="269.1">12</text><text x="572.2" y="269.1">12</text><text x="587.2" y="269.1">12</text><text x="602.2" y="269.1">12</text><text x="617.2" y="269.1">13</text><text x="632.2" y="269.1">14</text><text x="647.2" y="269.1">14</text><text x="662.2" y="269.1">14</text><text x="677.2" y="269.1">14</text><text x="692.2" y="269.1">13</text><text x="707.2" y="269.1">11</text><text x="722.2" y="269.1">10</text><text x="737.2" y="269.1">12</text><text x="752.2" y="269.1">12</text>
<text x="2.2" y="288.7">16</text><text x="17.2" y="288.7">13</text><text x="32.2" y="288.7">16</text><text x="47.2" y="288.7">17</text><text x="62.2" y="288.7">17</text><text x="77.2" y="288.7">17</text><text x="92.2" y="288.7">17</text><text x="107.2" y="288.7">17</text><text x="122.2" y="288.7">16</text><text x="137.2" y="288.7">10</text><text x="152.2" y="288.7">8</text><text x="167.2" y="288.7">8</text><text x="182.2" y="288.7">6</text><text x="197.2" y="288.7">5</text><text x="212.2" y="288.7">7</text><text x="227.2" y="288.7">9</text><text x="242.2" y="288.7">8</text><text x="257.2" y="288.7">10</text><text x="272.2" y="288.7">11</text><text x="287.2" y="288.7">10</text><text x="302.2" y="288.7">12</text><text x="317.2" y="288.7">15</text><text x="332.2" y="288.7">16</text><text x="347.2" y="288.7">16</text><text x="362.2" y="288.7">17</text><text x="377.2" y="288.7">17</text><text x="392.2" y="288.7">17</text><text x="407.2" y="288.7">16</text><text x="422.2" y="288.7">16</text><text x="437.2" y="288.7">16</text><text x="452.2" y="288.7">15</text><text x="467.2" y="288.7">15</text><text x="482.2" y="288.7">15</text><text x="497.2" y="288.7">16</text><text x="512.2" y="288.7">16</text><text x="527.2" y="288.7">15</text><text x="542.2" y="288.7">13</text><text x="557.2" y="288.7">12</text><text x="572.2" y="288.7">12</text><text x="587.2" y="288.7">12</text><text x="602.2" y="288.7">12</text><text x="617.2" y="288.7">13</text><text x="632.2" y="288.7">13</text><text x="647.2" y="288.7">13</text><text x="662.2" y="288.7">12</text><text x="677.2" y="288.7">12</text><text x="692.2" y="288.7">11</text><text x="707.2" y="288.7">12</text><text x="722.2" y="288.7">9</text><text x="737.2" y="288.7">9</text><text x="752.2" y="288.7">10</text>
<text x="2.2" y="308.2">17</text><text x="17.2" y="308.2">16</text><text x="32.2" y="308.2">16</text><text x="47.2" y="308.2">17</text><text x="62.2" y="308.2">17</text><text x="77.2" y="308.2">17</text><text x="92.2" y="308.2">17</text><text x="107.2" y="308.2">16</text><text x="122.2" y="308.2">15</text><text x="137.2" y="308.2">12</text><text x="152.2" y="308.2">9</text><text x="167.2" y="308.2">8</text><text x="182.2" y="308.2">8</text><text x="197.2" y="308.2">6</text><text x="212.2" y="308.2">6</text><text x="227.2" y="308.2">10</text><text x="242.2" y="308.2">12</text><text x="257.2" y="308.2">12</text><text x="272.2" y="308.2">13</text><text x="287.2" y="308.2">13</text><text x="302.2" y="308.2">12</text><text x="317.2" y="308.2">15</text><text x="332.2" y="308.2">16</text><text x="347.2" y="308.2">16</text><text x="362.2" y="308.2">17</text><text x="377.2" y="308.2">17</text><text x="392.2" y="308.2">17</text><text x="407.2" y="308.2">17</text><text x="422.2" y="308.2">16</text><text x="437.2" y="308.2">16</text><text x="452.2" y="308.2">16</text><text x="467.2" y="308.2">16</text><text x="482.2" y="308.2">16</text><text x="497.2" y="308.2">16</text><text x="512.2" y="308.2">16</text><text x="527.2" y="308.2">13</text><text x="542.2" y="308.2">13</text><text x="557.2" y="308.2">11</text><text x="572.2" y="308.2">12</text><text x="587.2" y="308.2">12</text><text x="602.2" y="308.2">12</text><text x="617.2" y="308.2">13</text><text x="632.2" y="308.2">14</text><text x="647.2" y="308.2">14</text><text x="662.2" y="308.2">11</text><text x="677.2" y="308.2">10</text><text x="692.2" y="308.2">11</text><text x="707.2" y="308.2">11</text><text x="722.2" y="308.2">10</text><text x="737.2" y="308.2">10</text><text x="752.2" y="308.2">9</text>
<text x="2.2" y="327.7">17</text><text x="17.2" y="327.7">17</text><text x="32.2" y="327.7">17</text><text x="47.2" y="327.7">17</text><text x="62.2" y="327.7">17</text><text x="77.2" y="327.7">18</text><text x="92.2" y="327.7">18</text><text x="107.2" y="327.7">17</text><text x="122.2" y="327.7">17</text><text x="137.2" y="327.7">16</text><text x="152.2" y="327.7">11</text><text x="167.2" y="327.7">9</text><text x="182.2" y="327.7">9</text><text x="197.2" y="327.7">8</text><text x="212.2" y="327.7">7</text><text x="227.2" y="327.7">8</text><text x="242.2" y="327.7">13</text><text x="257.2" y="327.7">13</text><text x="272.2" y="327.7">13</text><text x="287.2" y="327.7">13</text><text x="302.2" y="327.7">13</text><text x="317.2" y="327.7">12</text><text x="332.2" y="327.7">15</text><text x="347.2" y="327.7">16</text><text x="362.2" y="327.7">17</text><text x="377.2" y="327.7">17</text><text x="392.2" y="327.7">17</text><text x="407.2" y="327.7">17</text><text x="422.2" y="327.7">16</text><text x="437.2" y="327.7">16</text><text x="452.2" y="327.7">16</text><text x="467.2" y="327.7">16</text><text x="482.2" y="327.7">17</text><text x="497.2" y="327.7">17</text><text x="512.2" y="327.7">17</text><text x="527.2" y="327.7">17</text><text x="542.2" y="327.7">17</text><text x="557.2" y="327.7">17</text><text x="572.2" y="327.7">14</text><text x="587.2" y="327.7">12</text><text x="602.2" y="327.7">12</text><text x="617.2" y="327.7">13</text><text x="632.2" y="327.7">13</text><text x="647.2" y="327.7">14</text><text x="662.2" y="327.7">12</text><text x="677.2" y="327.7">10</text><text x="692.2" y="327.7">10</text><text x="707.2" y="327.7">10</text><text x="722.2" y="327.7">10</text><text x="737.2" y="327.7">9</text><text x="752.2" y="327.7">9</text>
<text x="2.2" y="347.1">17</text><text x="17.2" y="347.1">17</text><text x="32.2" y="347.1">17</text><text x="47.2" y="347.1">17</text><text x="62.2" y="347.1">17</text><text x="77.2" y="347.1">17</text><text x="92.2" y="347.1">18</text><text x="107.2" y="347.1">17</text><text x="122.2" y="347.1">17</text><text x="137.2" y="347.1">17</text><text x="152.2" y="347.1">16</text><text x="167.2" y="347.1">12</text><text x="182.2" y="347.1">12</text><text x="197.2" y="347.1">11</text><text x="212.2" y="347.1">8</text><text x="227.2" y="347.1">7</text><text x="242.2" y="347.1">8</text><text x="257.2" y="347.1">12</text><text x="272.2" y="347.1">13</text><text x="287.2" y="347.1">12</text><text x="302.2" y="347.1">13</text><text x="317.2" y="347.1">16</text><text x="332.2" y="347.1">17</text><text x="347.2" y="347.1">17</text><text x="362.2" y="347.1">16</text><text x="377.2" y="347.1">17</text><text x="392.2" y="347.1">17</text><text x="407.2" y="347.1">17</text><text x="422.2" y="347.1">17</text><text x="437.2" y="347.1">16</text><text x="452.2" y="347.1">16</text><text x="467.2" y="347.1">17</text><text x="482.2" y="347.1">17</text><text x="497.2" y="347.1">17</text><text x="512.2" y="347.1">15</text><text x="527.2" y="347.1">16</text><text x="542.2" y="347.1">16</text><text x="557.2" y="347.1">16</text><text x="572.2" y="347.1">14</text><text x="587.2" y="347.1">14</text><text x="602.2" y="347.1">15</text><text x="617.2" y="347.1">13</text><text x="632.2" y="347.1">13</text><text x="647.2" y="347.1">12</text><text x="662.2" y="347.1">12</text><text x="677.2" y="347.1">11</text><text x="692.2" y="347.1">10</text><text x="707.2" y="347.1">9</text><text x="722.2" y="347.1">9</text><text x="737.2" y="347.1">9</text><text x="752.2" y="347.1">10</text>
<text x="2.2" y="366.5">17</text><text x="17.2" y="366.5">17</text><text x="32.2" y="366.5">17</text><text x="47.2" y="366.5">17</text><text x="62.2" y="366.5">17</text><text x="77.2" y="366.5">17</text><text x="92.2" y="366.5">18</text><text x="107.2" y="366.5">18</text><text x="122.2" y="366.5">18</text><text x="137.2" y="366.5">18</text><text x="152.2" y="366.5">17</text><text x="167.2" y="366.5">16</text><text x="182.2" y="366.5">12</text><text x="197.2" y="366.5">11</text><text x="212.2" y="366.5">10</text><text x="227.2" y="366.5">9</text><text x="242.2" y="366.5">7</text><text x="257.2" y="366.5">10</text><text x="272.2" y="366.5">11</text><text x="287.2" y="366.5">12</text><text x="302.2" y="366.5">13</text><text x="317.2" y="366.5">13</text><text x="332.2" y="366.5">14</text><text x="347.2" y="366.5">17</text><text x="362.2" y="366.5">17</text><text x="377.2" y="366.5">17</text><text x="392.2" y="366.5">17</text><text x="407.2" y="366.5">17</text><text x="422.2" y="366.5">17</text><text x="437.2" y="366.5">17</text><text x="452.2" y="366.5">17</text><text x="467.2" y="366.5">17</text><text x="482.2" y="366.5">17</text><text x="497.2" y="366.5">18</text><text x="512.2" y="366.5">18</text><text x="527.2" y="366.5">17</text><text x="542.2" y="366.5">17</text><text x="557.2" y="366.5">17</text><text x="572.2" y="366.5">15</text><text x="587.2" y="366.5">14</text><text x="602.2" y="366.5">12</text><text x="617.2" y="366.5">13</text><text x="632.2" y="366.5">14</text><text x="647.2" y="366.5">12</text><text x="662.2" y="366.5">12</text><text x="677.2" y="366.5">12</text><text x="692.2" y="366.5">11</text><text x="707.2" y="366.5">10</text><text x="722.2" y="366.5">11</text><text x="737.2" y="366.5">10</text><text x="752.2" y="366.5">8</text>
<text x="2.2" y="385.8">17</text><text x="17.2" y="385.8">17</text><text x="32.2" y="385.8">18</text><text x="47.2" y="385.8">18</text><text x="62.2" y="385.8">18</text><text x="77.2" y="385.8">18</text><text x="92.2" y="385.8">18</text><text x="107.2" y="385.8">18</text><text x="122.2" y="385.8">18</text><text x="137.2" y="385.8">18</text><text x="152.2" y="385.8">18</text><text x="167.2" y="385.8">16</text><text x="182.2" y="385.8">12</text><text x="197.2" y="385.8">11</text><text x="212.2" y="385.8">11</text><text x="227.2" y="385.8">9</text><text x="242.2" y="385.8">7</text><text x="257.2" y="385.8">7</text><text x="272.2" y="385.8">8</text><text x="287.2" y="385.8">11</text><text x="302.2" y="385.8">13</text><text x="317.2" y="385.8">15</text><text x="332.2" y="385.8">17</text><text x="347.2" y="385.8">14</text><text x="362.2" y="385.8">14</text><text x="377.2" y="385.8">15</text><text x="392.2" y="385.8">17</text><text x="407.2" y="385.8">17</text><text x="422.2" y="385.8">17</text><text x="437.2" y="385.8">17</text><text x="452.2" y="385.8">17</text><text x="467.2" y="385.8">17</text><text x="482.2" y="385.8">17</text><text x="497.2" y="385.8">18</text><text x="512.2" y="385.8">18</text><text x="527.2" y="385.8">18</text><text x="542.2" y="385.8">16</text><text x="557.2" y="385.8">17</text><text x="572.2" y="385.8">15</text><text x="587.2" y="385.8">13</text><text x="602.2" y="385.8">14</text><text x="617.2" y="385.8">15</text><text x="632.2" y="385.8">15</text><text x="647.2" y="385.8">15</text><text x="662.2" y="385.8">14</text><text x="677.2" y="385.8">13</text><text x="692.2" y="385.8">13</text><text x="707.2" y="385.8">12</text><text x="722.2" y="385.8">11</text><text x="737.2" y="385.8">10</text><text x="752.2" y="385.8">10</text>
<text x="2.2" y="405.0">18</text><text x="17.2" y="405.0">18</text><text x="32.2" y="405.0">18</text><text x="47.2" y="405.0">18</text><text x="62.2" y="405.0">18</text><text x="77.2" y="405.0">18</text><text x="92.2" y="405.0">18</text><text x="107.2" y="405.0">18</text><text x="122.2" y="405.0">18</text><text x="137.2" y="405.0">18</text><text x="152.2" y="405.0">18</text><text x="167.2" y="405.0">12</text><text x="182.2" y="405.0">17</text><text x="197.2" y="405.0">12</text><text x="212.2" y="405.0">12</text><text x="227.2" y="405.0">11</text><text x="242.2" y="405.0">11</text><text x="257.2" y="405.0">10</text><text x="272.2" y="405.0">10</text><text x="287.2" y="405.0">11</text><text x="302.2" y="405.0">12</text><text x="317.2" y="405.0">14</text><text x="332.2" y="405.0">14</text><text x="347.2" y="405.0">14</text><text x="362.2" y="405.0">14</text><text x="377.2" y="405.0">13</text><text x="392.2" y="405.0">14</text><text x="407.2" y="405.0">17</text><text x="422.2" y="405.0">17</text><text x="437.2" y="405.0">17</text><text x="452.2" y="405.0">17</text><text x="467.2" y="405.0">17</text><text x="482.2" y="405.0">17</text><text x="497.2" y="405.0">18</text><text x="512.2" y="405.0">13</text><text x="527.2" y="405.0">18</text><text x="542.2" y="405.0">15</text><text x="557.2" y="405.0">17</text><text x="572.2" y="405.0">14</text><text x="587.2" y="405.0">14</text><text x="602.2" y="405.0">13</text><text x="617.2" y="405.0">15</text><text x="632.2" y="405.0">15</text><text x="647.2" y="405.0">16</text><text x="662.2" y="405.0">15</text><text x="677.2" y="405.0">13</text><text x="692.2" y="405.0">12</text><text x="707.2" y="405.0">12</text><text x="722.2" y="405.0">12</text><text x="737.2" y="405.0">13</text><text x="752.2" y="405.0">10</text>
<text x="2.2" y="424.2">18</text><text x="17.2" y="424.2">18</text><text x="32.2" y="424.2">18</text><text x="47.2" y="424.2">18</text><text x="62.2" y="424.2">18</text><text x="77.2" y="424.2">18</text><text x="92.2" y="424.2">18</text><text x="107.2" y="424.2">18</text><text x="122.2" y="424.2">18</text><text x="137.2" y="424.2">18</text><text x="152.2" y="424.2">17</text><text x="167.2" y="424.2">13</text><text x="182.2" y="424.2">18</text><text x="197.2" y="424.2">16</text><text x="212.2" y="424.2">16</text><text x="227.2" y="424.2">16</text><text x="242.2" y="424.2">13</text><text x="257.2" y="424.2">13</text><text x="272.2" y="424.2">17</text><text x="287.2" y="424.2">17</text><text x="302.2" y="424.2">17</text><text x="317.2" y="424.2">15</text><text x="332.2" y="424.2">13</text><text x="347.2" y="424.2">13</text><text x="362.2" y="424.2">13</text><text x="377.2" y="424.2">15</text><text x="392.2" y="424.2">17</text><text x="407.2" y="424.2">17</text><text x="422.2" y="424.2">18</text><text x="437.2" y="424.2">18</text><text x="452.2" y="424.2">18</text><text x="467.2" y="424.2">18</text><text x="482.2" y="424.2">18</text><text x="497.2" y="424.2">18</text><text x="512.2" y="424.2">14</text><text x="527.2" y="424.2">18</text><text x="542.2" y="424.2">17</text><text x="557.2" y="424.2">16</text><text x="572.2" y="424.2">14</text><text x="587.2" y="424.2">14</text><text x="602.2" y="424.2">14</text><text x="617.2" y="424.2">13</text><text x="632.2" y="424.2">14</text><text x="647.2" y="424.2">13</text><text x="662.2" y="424.2">11</text><text x="677.2" y="424.2">14</text><text x="692.2" y="424.2">14</text><text x="707.2" y="424.2">13</text><text x="722.2" y="424.2">13</text><text x="737.2" y="424.2">11</text><text x="752.2" y="424.2">11</text>
<text x="2.2" y="443.3">18</text><text x="17.2" y="443.3">18</text><text x="32.2" y="443.3">18</text><text x="47.2" y="443.3">18</text><text x="62.2" y="443.3">18</text><text x="77.2" y="443.3">18</text><text x="92.2" y="443.3">18</text><text x="107.2" y="443.3">18</text><text x="122.2" y="443.3">18</text><text x="137.2" y="443.3">19</text><text x="152.2" y="443.3">18</text><text x="167.2" y="443.3">18</text><text x="182.2" y="443.3">17</text><text x="197.2" y="443.3">18</text><text x="212.2" y="443.3">16</text><text x="227.2" y="443.3">12</text><text x="242.2" y="443.3">10</text><text x="257.2" y="443.3">8</text><text x="272.2" y="443.3">7</text><text x="287.2" y="443.3">10</text><text x="302.2" y="443.3">14</text><text x="317.2" y="443.3">16</text><text x="332.2" y="443.3">15</text><text x="347.2" y="443.3">16</text><text x="362.2" y="443.3">15</text><text x="377.2" y="443.3">15</text><text x="392.2" y="443.3">18</text><text x="407.2" y="443.3">18</text><text x="422.2" y="443.3">17</text><text x="437.2" y="443.3">18</text><text x="452.2" y="443.3">18</text><text x="467.2" y="443.3">18</text><text x="482.2" y="443.3">18</text><text x="497.2" y="443.3">18</text><text x="512.2" y="443.3">18</text><text x="527.2" y="443.3">18</text><text x="542.2" y="443.3">19</text><text x="557.2" y="443.3">19</text><text x="572.2" y="443.3">19</text><text x="587.2" y="443.3">14</text><text x="602.2" y="443.3">14</text><text x="617.2" y="443.3">14</text><text x="632.2" y="443.3">12</text><text x="647.2" y="443.3">12</text><text x="662.2" y="443.3">12</text><text x="677.2" y="443.3">11</text><text x="692.2" y="443.3">13</text><text x="707.2" y="443.3">14</text><text x="722.2" y="443.3">11</text><text x="737.2" y="443.3">12</text><text x="752.2" y="443.3">12</text>
<text x="2.2" y="462.3">18</text><text x="17.2" y="462.3">18</text><text x="32.2" y="462.3">18</text><text x="47.2" y="462.3">18</text><text x="62.2" y="462.3">18</text><text x="77.2" y="462.3">19</text><text x="92.2" y="462.3">19</text><text x="107.2" y="462.3">18</text><text x="122.2" y="462.3">18</text><text x="137.2" y="462.3">19</text><text x="152.2" y="462.3">19</text><text x="167.2" y="462.3">18</text><text x="182.2" y="462.3">15</text><text x="197.2" y="462.3">18</text><text x="212.2" y="462.3">14</text><text x="227.2" y="462.3">13</text><text x="242.2" y="462.3">11</text><text x="257.2" y="462.3">10</text><text x="272.2" y="462.3">9</text><text x="287.2" y="462.3">10</text><text x="302.2" y="462.3">12</text><text x="317.2" y="462.3">12</text><text x="332.2" y="462.3">17</text><text x="347.2" y="462.3">17</text><text x="362.2" y="462.3">18</text><text x="377.2" y="462.3">16</text><text x="392.2" y="462.3">18</text><text x="407.2" y="462.3">18</text><text x="422.2" y="462.3">18</text><text x="437.2" y="462.3">18</text><text x="452.2" y="462.3">18</text><text x="467.2" y="462.3">18</text><text x="482.2" y="462.3">18</text><text x="497.2" y="462.3">18</text><text x="512.2" y="462.3">18</text><text x="527.2" y="462.3">18</text><text x="542.2" y="462.3">18</text><text x="557.2" y="462.3">16</text><text x="572.2" y="462.3">17</text><text x="587.2" y="462.3">17</text><text x="602.2" y="462.3">14</text><text x="617.2" y="462.3">14</text><text x="632.2" y="462.3">14</text><text x="647.2" y="462.3">13</text><text x="662.2" y="462.3">14</text><text x="677.2" y="462.3">13</text><text x="692.2" y="462.3">11</text><text x="707.2" y="462.3">14</text><text x="722.2" y="462.3">13</text><text x="737.2" y="462.3">13</text><text x="752.2" y="462.3">12</text>
<text x="2.2" y="481.3">19</text><text x="17.2" y="481.3">19</text><text x="32.2" y="481.3">19</text><text x="47.2" y="481.3">18</text><text x="62.2" y="481.3">18</text><text x="77.2" y="481.3">18</text><text x="92.2" y="481.3">19</text><text x="107.2" y="481.3">19</text><text x="122.2" y="481.3">19</text><text x="137.2" y="481.3">19</text><text x="152.2" y="481.3">19</text><text x="167.2" y="481.3">19</text><text x="182.2" y="481.3">19</text><text x="197.2" y="481.3">18</text><text x="212.2" y="481.3">17</text><text x="227.2" y="481.3">14</text><text x="242.2" y="481.3">12</text><text x="257.2" y="481.3">10</text><text x="272.2" y="481.3">8</text><text x="287.2" y="481.3">10</text><text x="302.2" y="481.3">13</text><text x="317.2" y="481.3">14</text><text x="332.2" y="481.3">14</text><text x="347.2" y="481.3">17</text><text x="362.2" y="481.3">19</text><text x="377.2" y="481.3">19</text><text x="392.2" y="481.3">18</text><text x="407.2" y="481.3">18</text><text x="422.2" y="481.3">18</text><text x="437.2" y="481.3">18</text><text x="452.2" y="481.3">17</text><text x="467.2" y="481.3">18</text><text x="482.2" y="481.3">18</text><text x="497.2" y="481.3">18</text><text x="512.2" y="481.3">16</text><text x="527.2" y="481.3">18</text><text x="542.2" y="481.3">19</text><text x="557.2" y="481.3">19</text><text x="572.2" y="481.3">19</text><text x="587.2" y="481.3">17</text><text x="602.2" y="481.3">15</text><text x="617.2" y="481.3">13</text><text x="632.2" y="481.3">14</text><text x="647.2" y="481.3">13</text><text x="662.2" y="481.3">12</text><text x="677.2" y="481.3">12</text><text x="692.2" y="481.3">11</text><text x="707.2" y="481.3">10</text><text x="722.2" y="481.3">10</text><text x="737.2" y="481.3">10</text><text x="752.2" y="481.3">10</text>
<text x="2.2" y="500.2">19</text><text x="17.2" y="500.2">19</text><text x="32.2" y="500.2">19</text><text x="47.2" y="500.2">19</text><text x="62.2" y="500.2">19</text><text x="77.2" y="500.2">19</text><text x="92.2" y="500.2">19</text><text x="107.2" y="500.2">19</text><text x="122.2" y="500.2">19</text><text x="137.2" y="500.2">19</text><text x="152.2" y="500.2">19</text><text x="167.2" y="500.2">19</text><text x="182.2" y="500.2">19</text><text x="197.2" y="500.2">18</text><text x="212.2" y="500.2">18</text><text x="227.2" y="500.2">17</text><text x="242.2" y="500.2">13</text><text x="257.2" y="500.2">12</text><text x="272.2" y="500.2">11</text><text x="287.2" y="500.2">10</text><text x="302.2" y="500.2">12</text><text x="317.2" y="500.2">18</text><text x="332.2" y="500.2">18</text><text x="347.2" y="500.2">18</text><text x="362.2" y="500.2">19</text><text x="377.2" y="500.2">19</text><text x="392.2" y="500.2">19</text><text x="407.2" y="500.2">18</text><text x="422.2" y="500.2">19</text><text x="437.2" y="500.2">18</text><text x="452.2" y="500.2">18</text><text x="467.2" y="500.2">18</text><text x="482.2" y="500.2">18</text><text x="497.2" y="500.2">18</text><text x="512.2" y="500.2">19</text><text x="527.2" y="500.2">19</text><text x="542.2" y="500.2">18</text><text x="557.2" y="500.2">19</text><text x="572.2" y="500.2">19</text><text x="587.2" y="500.2">19</text><text x="602.2" y="500.2">14</text><text x="617.2" y="500.2">14</text><text x="632.2" y="500.2">14</text><text x="647.2" y="500.2">12</text><text x="662.2" y="500.2">10</text><text x="677.2" y="500.2">11</text><text x="692.2" y="500.2">11</text><text x="707.2" y="500.2">8</text><text x="722.2" y="500.2">10</text><text x="737.2" y="500.2">11</text><text x="752.2" y="500.2">10</text>
<text x="2.2" y="519.0">19</text><text x="17.2" y="519.0">19</text><text x="32.2" y="519.0">19</text><text x="47.2" y="519.0">19</text><text x="62.2" y="519.0">19</text><text x="77.2" y="519.0">19</text><text x="92.2" y="519.0">19</text><text x="107.2" y="519.0">19</text><text x="122.2" y="519.0">19</text><text x="137.2" y="519.0">19</text><text x="152.2" y="519.0">19</text><text x="167.2" y="519.0">19</text><text x="182.2" y="519.0">19</text><text x="197.2" y="519.0">19</text><text x="212.2" y="519.0">18</text><text x="227.2" y="519.0">17</text><text x="242.2" y="519.0">12</text><text x="257.2" y="519.0">15</text><text x="272.2" y="519.0">9</text><text x="287.2" y="519.0">12</text><text x="302.2" y="519.0">11</text><text x="317.2" y="519.0">14</text><text x="332.2" y="519.0">19</text><text x="347.2" y="519.0">19</text><text x="362.2" y="519.0">19</text><text x="377.2" y="519.0">19</text><text x="392.2" y="519.0">19</text><text x="407.2" y="519.0">19</text><text x="422.2" y="519.0">19</text><text x="437.2" y="519.0">19</text><text x="452.2" y="519.0">19</text><text x="467.2" y="519.0">19</text><text x="482.2" y="519.0">17</text><text x="497.2" y="519.0">19</text><text x="512.2" y="519.0">19</text><text x="527.2" y="519.0">19</text><text x="542.2" y="519.0">19</text><text x="557.2" y="519.0">19</text><text x="572.2" y="519.0">19</text><text x="587.2" y="519.0">19</text><text x="602.2" y="519.0">15</text><text x="617.2" y="519.0">14</text><text x="632.2" y="519.0">14</text><text x="647.2" y="519.0">12</text><text x="662.2" y="519.0">12</text><text x="677.2" y="519.0">13</text><text x="692.2" y="519.0">10</text><text x="707.2" y="519.0">11</text><text x="722.2" y="519.0">9</text><text x="737.2" y="519.0">10</text><text x="752.2" y="519.0">9</text>
<text x="2.2" y="537.8">19</text><text x="17.2" y="537.8">19</text><text x="32.2" y="537.8">19</text><text x="47.2" y="537.8">19</text><text x="62.2" y="537.8">19</text><text x="77.2" y="537.8">19</text><text x="92.2" y="537.8">19</text><text x="107.2" y="537.8">19</text><text x="122.2" y="537.8">19</text><text x="137.2" y="537.8">19</text><text x="152.2" y="537.8">19</text><text x="167.2" y="537.8">19</text><text x="182.2" y="537.8">19</text><text x="197.2" y="537.8">19</text><text x="212.2" y="537.8">19</text><text x="227.2" y="537.8">18</text><text x="242.2" y="537.8">15</text><text x="257.2" y="537.8">18</text><text x="272.2" y="537.8">15</text><text x="287.2" y="537.8">13</text><text x="302.2" y="537.8">14</text><text x="317.2" y="537.8">12</text><text x="332.2" y="537.8">19</text><text x="347.2" y="537.8">19</text><text x="362.2" y="537.8">19</text><text x="377.2" y="537.8">19</text><text x="392.2" y="537.8">19</text><text x="407.2" y="537.8">19</text><text x="422.2" y="537.8">19</text><text x="437.2" y="537.8">19</text><text x="452.2" y="537.8">19</text><text x="467.2" y="537.8">19</text><text x="482.2" y="537.8">19</text><text x="497.2" y="537.8">19</text><text x="512.2" y="537.8">19</text><text x="527.2" y="537.8">20</text><text x="542.2" y="537.8">20</text><text x="557.2" y="537.8">20</text><text x="572.2" y="537.8">20</text><text x="587.2" y="537.8">18</text><text x="602.2" y="537.8">19</text><text x="617.2" y="537.8">18</text><text x="632.2" y="537.8">16</text><text x="647.2" y="537.8">16</text><text x="662.2" y="537.8">14</text><text x="677.2" y="537.8">13</text><text x="692.2" y="537.8">15</text><text x="707.2" y="537.8">13</text><text x="722.2" y="537.8">9</text><text x="737.2" y="537.8">8</text><text x="752.2" y="537.8">8</text>
<text x="2.2" y="556.5">20</text><text x="17.2" y="556.5">20</text><text x="32.2" y="556.5">19</text><text x="47.2" y="556.5">19</text><text x="62.2" y="556.5">19</text><text x="77.2" y="556.5">19</text><text x="92.2" y="556.5">19</text><text x="107.2" y="556.5">19</text><text x="122.2" y="556.5">19</text><text x="137.2" y="556.5">19</text><text x="152.2" y="556.5">19</text><text x="167.2" y="556.5">19</text><text x="182.2" y="556.5">19</text><text x="197.2" y="556.5">19</text><text x="212.2" y="556.5">19</text><text x="227.2" y="556.5">19</text><text x="242.2" y="556.5">19</text><text x="257.2" y="556.5">19</text><text x="272.2" y="556.5">19</text><text x="287.2" y="556.5">16</text><text x="302.2" y="556.5">19</text><text x="317.2" y="556.5">15</text><text x="332.2" y="556.5">18</text><text x="347.2" y="556.5">19</text><text x="362.2" y="556.5">19</text><text x="377.2" y="556.5">19</text><text x="392.2" y="556.5">19</text><text x="407.2" y="556.5">19</text><text x="422.2" y="556.5">19</text><text x="437.2" y="556.5">19</text><text x="452.2" y="556.5">19</text><text x="467.2" y="556.5">19</text><text x="482.2" y="556.5">19</text><text x="497.2" y="556.5">19</text><text x="512.2" y="556.5">20</text><text x="527.2" y="556.5">19</text><text x="542.2" y="556.5">20</text><text x="557.2" y="556.5">19</text><text x="572.2" y="556.5">20</text><text x="587.2" y="556.5">20</text><text x="602.2" y="556.5">20</text><text x="617.2" y="556.5">20</text><text x="632.2" y="556.5">19</text><text x="647.2" y="556.5">20</text><text x="662.2" y="556.5">20</text><text x="677.2" y="556.5">20</text><text x="692.2" y="556.5">19</text><text x="707.2" y="556.5">17</text><text x="722.2" y="556.5">15</text><text x="737.2" y="556.5">8</text><text x="752.2" y="556.5">8</text>
<text x="2.2" y="575.1">20</text><text x="17.2" y="575.1">20</text><text x="32.2" y="575.1">20</text><text x="47.2" y="575.1">19</text><text x="62.2" y="575.1">19</text><text x="77.2" y="575.1">19</text><text x="92.2" y="575.1">19</text><text x="107.2" y="575.1">19</text><text x="122.2" y="575.1">19</text><text x="137.2" y="575.1">19</text><text x="152.2" y="575.1">19</text><text x="167.2" y="575.1">19</text><text x="182.2" y="575.1">19</text><text x="197.2" y="575.1">19</text><text x="212.2" y="575.1">19</text><text x="227.2" y="575.1">19</text><text x="242.2" y="575.1">20</text><text x="257.2" y="575.1">20</text><text x="272.2" y="575.1">19</text><text x="287.2" y="575.1">19</text><text x="302.2" y="575.1">19</text><text x="317.2" y="575.1">19</text><text x="332.2" y="575.1">20</text><text x="347.2" y="575.1">19</text><text x="362.2" y="575.1">20</text><text x="377.2" y="575.1">19</text><text x="392.2" y="575.1">19</text><text x="407.2" y="575.1">19</text><text x="422.2" y="575.1">19</text><text x="437.2" y="575.1">19</text><text x="452.2" y="575.1">19</text><text x="467.2" y="575.1">20</text><text x="482.2" y="575.1">20</text><text x="497.2" y="575.1">20</text><text x="512.2" y="575.1">20</text><text x="527.2" y="575.1">20</text><text x="542.2" y="575.1">19</text><text x="557.2" y="575.1">19</text><text x="572.2" y="575.1">19</text><text x="587.2" y="575.1">20</text><text x="602.2" y="575.1">20</text><text x="617.2" y="575.1">20</text><text x="632.2" y="575.1">19</text><text x="647.2" y="575.1">18</text><text x="662.2" y="575.1">21</text><text x="677.2" y="575.1">21</text><text x="692.2" y="575.1">21</text><text x="707.2" y="575.1">21</text><text x="722.2" y="575.1">15</text><text x="737.2" y="575.1">11</text><text x="752.2" y="575.1">13</text>
<text x="2.2" y="593.7">20</text><text x="17.2" y="593.7">20</text><text x="32.2" y="593.7">20</text><text x="47.2" y="593.7">20</text><text x="62.2" y="593.7">19</text><text x="77.2" y="593.7">19</text><text x="92.2" y="593.7">19</text><text x="107.2" y="593.7">19</text><text x="122.2" y="593.7">19</text><text x="137.2" y="593.7">19</text><text x="152.2" y="593.7">19</text><text x="167.2" y="593.7">19</text><text x="182.2" y="593.7">19</text><text x="197.2" y="593.7">19</text><text x="212.2" y="593.7">20</text><text x="227.2" y="593.7">20</text><text x="242.2" y="593.7">20</text><text x="257.2" y="593.7">20</text><text x="272.2" y="593.7">20</text><text x="287.2" y="593.7">20</text><text x="302.2" y="593.7">20</text><text x="317.2" y="593.7">18</text><text x="332.2" y="593.7">20</text><text x="347.2" y="593.7">20</text><text x="362.2" y="593.7">20</text><text x="377.2" y="593.7">20</text><text x="392.2" y="593.7">20</text><text x="407.2" y="593.7">20</text><text x="422.2" y="593.7">20</text><text x="437.2" y="593.7">20</text><text x="452.2" y="593.7">20</text><text x="467.2" y="593.7">20</text><text x="482.2" y="593.7">20</text><text x="497.2" y="593.7">20</text><text x="512.2" y="593.7">20</text><text x="527.2" y="593.7">20</text><text x="542.2" y="593.7">19</text><text x="557.2" y="593.7">19</text><text x="572.2" y="593.7">19</text><text x="587.2" y="593.7">20</text><text x="602.2" y="593.7">20</text><text x="617.2" y="593.7">21</text><text x="632.2" y="593.7">17</text><text x="647.2" y="593.7">20</text><text x="662.2" y="593.7">21</text><text x="677.2" y="593.7">21</text><text x="692.2" y="593.7">21</text><text x="707.2" y="593.7">20</text><text x="722.2" y="593.7">20</text><text x="737.2" y="593.7">20</text><text x="752.2" y="593.7">18</text>
<text x="2.2" y="612.2">20</text><text x="17.2" y="612.2">20</text><text x="32.2" y="612.2">20</text><text x="47.2" y="612.2">20</text><text x="62.2" y="612.2">20</text><text x="77.2" y="612.2">20</text><text x="92.2" y="612.2">19</text><text x="107.2" y="612.2">19</text><text x="122.2" y="612.2">19</text><text x="137.2" y="612.2">19</text><text x="152.2" y="612.2">19</text><text x="167.2" y="612.2">20</text><text x="182.2" y="612.2">20</text><text x="197.2" y="612.2">20</text><text x="212.2" y="612.2">20</text><text x="227.2" y="612.2">20</text><text x="242.2" y="612.2">20</text><text x="257.2" y="612.2">20</text><text x="272.2" y="612.2">20</text><text x="287.2" y="612.2">20</text><text x="302.2" y="612.2">20</text><text x="317.2" y="612.2">20</text><text x="332.2" y="612.2">20</text><text x="347.2" y="612.2">20</text><text x="362.2" y="612.2">20</text><text x="377.2" y="612.2">20</text><text x="392.2" y="612.2">20</text><text x="407.2" y="612.2">20</text><text x="422.2" y="612.2">20</text><text x="437.2" y="612.2">20</text><text x="452.2" y="612.2">20</text><text x="467.2" y="612.2">20</text><text x="482.2" y="612.2">20</text><text x="497.2" y="612.2">20</text><text x="512.2" y="612.2">20</text><text x="527.2" y="612.2">19</text><text x="542.2" y="612.2">19</text><text x="557.2" y="612.2">19</text><text x="572.2" y="612.2">20</text><text x="587.2" y="612.2">19</text><text x="602.2" y="612.2">20</text><text x="617.2" y="612.2">21</text><text x="632.2" y="612.2">20</text><text x="647.2" y="612.2">21</text><text x="662.2" y="612.2">21</text><text x="677.2" y="612.2">21</text><text x="692.2" y="612.2">21</text><text x="707.2" y="612.2">20</text><text x="722.2" y="612.2">20</text><text x="737.2" y="612.2">20</text><text x="752.2" y="612.2">20</text>
<text x="2.2" y="630.7">20</text><text x="17.2" y="630.7">20</text><text x="32.2" y="630.7">20</text><text x="47.2" y="630.7">20</text><text x="62.2" y="630.7">20</text><text x="77.2" y="630.7">20</text><text x="92.2" y="630.7">20</text><text x="107.2" y="630.7">20</text><text x="122.2" y="630.7">20</text><text x="137.2" y="630.7">20</text><text x="152.2" y="630.7">20</text><text x="167.2" y="630.7">20</text><text x="182.2" y="630.7">20</text><text x="197.2" y="630.7">20</text><text x="212.2" y="630.7">19</text><text x="227.2" y="630.7">19</text><text x="242.2" y="630.7">20</text><text x="257.2" y="630.7">20</text><text x="272.2" y="630.7">20</text><text x="287.2" y="630.7">20</text><text x="302.2" y="630.7">20</text><text x="317.2" y="630.7">20</text><text x="332.2" y="630.7">20</text><text x="347.2" y="630.7">20</text><text x="362.2" y="630.7">20</text><text x="377.2" y="630.7">20</text><text x="392.2" y="630.7">20</text><text x="407.2" y="630.7">20</text><text x="422.2" y="630.7">20</text><text x="437.2" y="630.7">20</text><text x="452.2" y="630.7">20</text><text x="467.2" y="630.7">20</text><text x="482.2" y="630.7">20</text><text x="497.2" y="630.7">20</text><text x="512.2" y="630.7">19</text><text x="527.2" y="630.7">19</text><text x="542.2" y="630.7">19</text><text x="557.2" y="630.7">19</text><text x="572.2" y="630.7">20</text><text x="587.2" y="630.7">20</text><text x="602.2" y="630.7">21</text><text x="617.2" y="630.7">21</text><text x="632.2" y="630.7">21</text><text x="647.2" y="630.7">21</text><text x="662.2" y="630.7">21</text><text x="677.2" y="630.7">21</text><text x="692.2" y="630.7">21</text><text x="707.2" y="630.7">21</text><text x="722.2" y="630.7">20</text><text x="737.2" y="630.7">20</text><text x="752.2" y="630.7">20</text>
<text x="2.2" y="649.1">20</text><text x="17.2" y="649.1">20</text><text x="32.2" y="649.1">20</text><text x="47.2" y="649.1">20</text><text x="62.2" y="649.1">20</text><text x="77.2" y="649.1">20</text><text x="92.2" y="649.1">20</text><text x="107.2" y="649.1">20</text><text x="122.2" y="649.1">20</text><text x="137.2" y="649.1">20</text><text x="152.2" y="649.1">20</text><text x="167.2" y="649.1">20</text><text x="182.2" y="649.1">20</text><text x="197.2" y="649.1">20</text><text x="212.2" y="649.1">20</text><text x="227.2" y="649.1">20</text><text x="242.2" y="649.1">20</text><text x="257.2" y="649.1">20</text><text x="272.2" y="649.1">20</text><text x="287.2" y="649.1">20</text><text x="302.2" y="649.1">20</text><text x="317.2" y="649.1">20</text><text x="332.2" y="649.1">20</text><text x="347.2" y="649.1">20</text><text x="362.2" y="649.1">16</text><text x="377.2" y="649.1">14</text><text x="392.2" y="649.1">15</text><text x="407.2" y="649.1">19</text><text x="422.2" y="649.1">19</text><text x="437.2" y="649.1">19</text><text x="452.2" y="649.1">19</text><text x="467.2" y="649.1">19</text><text x="482.2" y="649.1">19</text><text x="497.2" y="649.1">19</text><text x="512.2" y="649.1">19</text><text x="527.2" y="649.1">20</text><text x="542.2" y="649.1">20</text><text x="557.2" y="649.1">21</text><text x="572.2" y="649.1">21</text><text x="587.2" y="649.1">21</text><text x="602.2" y="649.1">21</text><text x="617.2" y="649.1">21</text><text x="632.2" y="649.1">21</text><text x="647.2" y="649.1">21</text><text x="662.2" y="649.1">21</text><text x="677.2" y="649.1">21</text><text x="692.2" y="649.1">21</text><text x="707.2" y="649.1">21</text><text x="722.2" y="649.1">21</text><text x="737.2" y="649.1">20</text><text x="752.2" y="649.1">21</text>
<text x="2.2" y="667.4">20</text><text x="17.2" y="667.4">20</text><text x="32.2" y="667.4">20</text><text x="47.2" y="667.4">20</text><text x="62.2" y="667.4">20</text><text x="77.2" y="667.4">20</text><text x="92.2" y="667.4">20</text><text x="107.2" y="667.4">20</text><text x="122.2" y="667.4">20</text><text x="137.2" y="667.4">20</text><text x="152.2" y="667.4">20</text><text x="167.2" y="667.4">20</text><text x="182.2" y="667.4">20</text><text x="197.2" y="667.4">20</text><text x="212.2" y="667.4">20</text><text x="227.2" y="667.4">20</text><text x="242.2" y="667.4">20</text><text x="257.2" y="667.4">20</text><text x="272.2" y="667.4">20</text><text x="287.2" y="667.4">20</text><text x="302.2" y="667.4">20</text><text x="317.2" y="667.4">20</text><text x="332.2" y="667.4">20</text><text x="347.2" y="667.4">20</text><text x="362.2" y="667.4">18</text><text x="377.2" y="667.4">18</text><text x="392.2" y="667.4">14</text><text x="407.2" y="667.4">16</text><text x="422.2" y="667.4">15</text><text x="437.2" y="667.4">12</text><text x="452.2" y="667.4">15</text><text x="467.2" y="667.4">15</text><text x="482.2" y="667.4">14</text><text x="497.2" y="667.4">16</text><text x="512.2" y="667.4">18</text><text x="527.2" y="667.4">18</text><text x="542.2" y="667.4">20</text><text x="557.2" y="667.4">20</text><text x="572.2" y="667.4">20</text><text x="587.2" y="667.4">20</text><text x="602.2" y="667.4">20</text><text x="617.2" y="667.4">21</text><text x="632.2" y="667.4">21</text><text x="647.2" y="667.4">21</text><text x="662.2" y="667.4">20</text><text x="677.2" y="667.4">21</text><text x="692.2" y="667.4">21</text><text x="707.2" y="667.4">21</text><text x="722.2" y="667.4">21</text><text x="737.2" y="667.4">21</text><text x="752.2" y="667.4">21</text>
<text x="2.2" y="685.7">20</text><text x="17.2" y="685.7">20</text><text x="32.2" y="685.7">20</text><text x="47.2" y="685.7">20</text><text x="62.2" y="685.7">21</text><text x="77.2" y="685.7">20</text><text x="92.2" y="685.7">20</text><text x="107.2" y="685.7">20</text><text x="122.2" y="685.7">21</text><text x="137.2" y="685.7">21</text><text x="152.2" y="685.7">20</text><text x="167.2" y="685.7">21</text><text x="182.2" y="685.7">20</text><text x="197.2" y="685.7">20</text><text x="212.2" y="685.7">20</text><text x="227.2" y="685.7">20</text><text x="242.2" y="685.7">20</text><text x="257.2" y="685.7">20</text><text x="272.2" y="685.7">20</text><text x="287.2" y="685.7">20</text><text x="302.2" y="685.7">21</text><text x="317.2" y="685.7">21</text><text x="332.2" y="685.7">20</text><text x="347.2" y="685.7">21</text><text x="362.2" y="685.7">21</text><text x="377.2" y="685.7">21</text><text x="392.2" y="685.7">21</text><text x="407.2" y="685.7">21</text><text x="422.2" y="685.7">21</text><text x="437.2" y="685.7">19</text><text x="452.2" y="685.7">18</text><text x="467.2" y="685.7">18</text><text x="482.2" y="685.7">18</text><text x="497.2" y="685.7">20</text><text x="512.2" y="685.7">20</text><text x="527.2" y="685.7">20</text><text x="542.2" y="685.7">20</text><text x="557.2" y="685.7">21</text><text x="572.2" y="685.7">20</text><text x="587.2" y="685.7">20</text><text x="602.2" y="685.7">21</text><text x="617.2" y="685.7">21</text><text x="632.2" y="685.7">21</text><text x="647.2" y="685.7">21</text><text x="662.2" y="685.7">21</text><text x="677.2" y="685.7">20</text><text x="692.2" y="685.7">21</text><text x="707.2" y="685.7">21</text><text x="722.2" y="685.7">21</text><text x="737.2" y="685.7">20</text><text x="752.2" y="685.7">21</text>
<text x="2.2" y="703.9">20</text><text x="17.2" y="703.9">21</text><text x="32.2" y="703.9">21</text><text x="47.2" y="703.9">21</text><text x="62.2" y="703.9">21</text><text x="77.2" y="703.9">21</text><text x="92.2" y="703.9">21</text><text x="107.2" y="703.9">20</text><text x="122.2" y="703.9">20</text><text x="137.2" y="703.9">20</text><text x="152.2" y="703.9">20</text><text x="167.2" y="703.9">21</text><text x="182.2" y="703.9">20</text><text x="197.2" y="703.9">20</text><text x="212.2" y="703.9">20</text><text x="227.2" y="703.9">20</text><text x="242.2" y="703.9">20</text><text x="257.2" y="703.9">20</text><text x="272.2" y="703.9">20</text><text x="287.2" y="703.9">20</text><text x="302.2" y="703.9">20</text><text x="317.2" y="703.9">21</text><text x="332.2" y="703.9">21</text><text x="347.2" y="703.9">21</text><text x="362.2" y="703.9">21</text><text x="377.2" y="703.9">21</text><text x="392.2" y="703.9">21</text><text x="407.2" y="703.9">21</text><text x="422.2" y="703.9">21</text><text x="437.2" y="703.9">21</text><text x="452.2" y="703.9">21</text><text x="467.2" y="703.9">21</text><text x="482.2" y="703.9">21</text><text x="497.2" y="703.9">21</text><text x="512.2" y="703.9">21</text><text x="527.2" y="703.9">21</text><text x="542.2" y="703.9">21</text><text x="557.2" y="703.9">21</text><text x="572.2" y="703.9">21</text><text x="587.2" y="703.9">21</text><text x="602.2" y="703.9">21</text><text x="617.2" y="703.9">21</text><text x="632.2" y="703.9">20</text><text x="647.2" y="703.9">20</text><text x="662.2" y="703.9">21</text><text x="677.2" y="703.9">21</text><text x="692.2" y="703.9">21</text><text x="707.2" y="703.9">21</text><text x="722.2" y="703.9">21</text><text x="737.2" y="703.9">21</text><text x="752.2" y="703.9">21</text>
<text x="2.2" y="722.0">20</text><text x="17.2" y="722.0">20</text><text x="32.2" y="722.0">20</text><text x="47.2" y="722.0">20</text><text x="62.2" y="722.0">20</text><text x="77.2" y="722.0">20</text><text x="92.2" y="722.0">20</text><text x="107.2" y="722.0">20</text><text x="122.2" y="722.0">20</text><text x="137.2" y="722.0">20</text><text x="152.2" y="722.0">21</text><text x="167.2" y="722.0">21</text><text x="182.2" y="722.0">20</text><text x="197.2" y="722.0">20</text><text x="212.2" y="722.0">20</text><text x="227.2" y="722.0">20</text><text x="242.2" y="722.0">20</text><text x="257.2" y="722.0">20</text><text x="272.2" y="722.0">20</text><text x="287.2" y="722.0">20</text><text x="302.2" y="722.0">20</text><text x="317.2" y="722.0">21</text><text x="332.2" y="722.0">21</text><text x="347.2" y="722.0">21</text><text x="362.2" y="722.0">21</text><text x="377.2" y="722.0">21</text><text x="392.2" y="722.0">21</text><text x="407.2" y="722.0">21</text><text x="422.2" y="722.0">21</text><text x="437.2" y="722.0">21</text><text x="452.2" y="722.0">21</text><text x="467.2" y="722.0">21</text><text x="482.2" y="722.0">21</text><text x="497.2" y="722.0">21</text><text x="512.2" y="722.0">21</text><text x="527.2" y="722.0">21</text><text x="542.2" y="722.0">21</text><text x="557.2" y="722.0">21</text><text x="572.2" y="722.0">21</text><text x="587.2" y="722.0">21</text><text x="602.2" y="722.0">21</text><text x="617.2" y="722.0">21</text><text x="632.2" y="722.0">21</text><text x="647.2" y="722.0">21</text><text x="662.2" y="722.0">21</text><text x="677.2" y="722.0">21</text><text x="692.2" y="722.0">21</text><text x="707.2" y="722.0">21</text><text x="722.2" y="722.0">21</text><text x="737.2" y="722.0">20</text><text x="752.2" y="722.0">21</text>
<text x="2.2" y="740.1">20</text><text x="17.2" y="740.1">20</text><text x="32.2" y="740.1">20</text><text x="47.2" y="740.1">20</text><text x="62.2" y="740.1">20</text><text x="77.2" y="740.1">20</text><text x="92.2" y="740.1">20</text><text x="107.2" y="740.1">20</text><text x="122.2" y="740.1">20</text><text x="137.2" y="740.1">20</text><text x="152.2" y="740.1">20</text><text x="167.2" y="740.1">20</text><text x="182.2" y="740.1">20</text><text x="197.2" y="740.1">20</text><text x="212.2" y="740.1">20</text><text x="227.2" y="740.1">20</text><text x="242.2" y="740.1">20</text><text x="257.2" y="740.1">20</text><text x="272.2" y="740.1">20</text><text x="287.2" y="740.1">20</text><text x="302.2" y="740.1">20</text><text x="317.2" y="740.1">21</text><text x="332.2" y="740.1">21</text><text x="347.2" y="740.1">21</text><text x="362.2" y="740.1">21</text><text x="377.2" y="740.1">21</text><text x="392.2" y="740.1">21</text><text x="407.2" y="740.1">21</text><text x="422.2" y="740.1">21</text><text x="437.2" y="740.1">21</text><text x="452.2" y="740.1">21</text><text x="467.2" y="740.1">21</text><text x="482.2" y="740.1">21</text><text x="497.2" y="740.1">21</text><text x="512.2" y="740.1">21</text><text x="527.2" y="740.1">21</text><text x="542.2" y="740.1">21</text><text x="557.2" y="740.1">21</text><text x="572.2" y="740.1">21</text><text x="587.2" y="740.1">21</text><text x="602.2" y="740.1">21</text><text x="617.2" y="740.1">21</text><text x="632.2" y="740.1">21</text><text x="647.2" y="740.1">21</text><text x="662.2" y="740.1">21</text><text x="677.2" y="740.1">21</text><text x="692.2" y="740.1">21</text><text x="707.2" y="740.1">21</text><text x="722.2" y="740.1">21</text><text x="737.2" y="740.1">21</text><text x="752.2" y="740.1">21</text>
<text x="2.2" y="758.1">21</text><text x="17.2" y="758.1">21</text><text x="32.2" y="758.1">21</text><text x="47.2" y="758.1">21</text><text x="62.2" y="758.1">21</text><text x="77.2" y="758.1">21</text><text x="92.2" y="758.1">21</text><text x="107.2" y="758.1">21</text><text x="122.2" y="758.1">22</text><text x="137.2" y="758.1">21</text><text x="152.2" y="758.1">21</text><text x="167.2" y="758.1">21</text><text x="182.2" y="758.1">21</text><text x="197.2" y="758.1">21</text><text x="212.2" y="758.1">20</text><text x="227.2" y="758.1">20</text><text x="242.2" y="758.1">20</text><text x="257.2" y="758.1">20</text><text x="272.2" y="758.1">20</text><text x="287.2" y="758.1">20</text><text x="302.2" y="758.1">20</text><text x="317.2" y="758.1">20</text><text x="332.2" y="758.1">20</text><text x="347.2" y="758.1">21</text><text x="362.2" y="758.1">21</text><text x="377.2" y="758.1">21</text><text x="392.2" y="758.1">21</text><text x="407.2" y="758.1">21</text><text x="422.2" y="758.1">21</text><text x="437.2" y="758.1">21</text><text x="452.2" y="758.1">21</text><text x="467.2" y="758.1">21</text><text x="482.2" y="758.1">21</text><text x="497.2" y="758.1">21</text><text x="512.2" y="758.1">21</text><text x="527.2" y="758.1">21</text><text x="542.2" y="758.1">21</text><text x="557.2" y="758.1">21</text><text x="572.2" y="758.1">21</text><text x="587.2" y="758.1">21</text><text x="602.2" y="758.1">21</text><text x="617.2" y="758.1">21</text><text x="632.2" y="758.1">22</text><text x="647.2" y="758.1">22</text><text x="662.2" y="758.1">22</text><text x="677.2" y="758.1">22</text><text x="692.2" y="758.1">22</text><text x="707.2" y="758.1">22</text><text x="722.2" y="758.1">22</text><text x="737.2" y="758.1">21</text><text x="752.2" y="758.1">21</text>
<text x="2.2" y="776.0">21</text><text x="17.2" y="776.0">21</text><text x="32.2" y="776.0">21</text><text x="47.2" y="776.0">21</text><text x="62.2" y="776.0">21</text><text x="77.2" y="776.0">21</text><text x="92.2" y="776.0">21</text><text x="107.2" y="776.0">22</text><text x="122.2" y="776.0">22</text><text x="137.2" y="776.0">21</text><text x="152.2" y="776.0">21</text><text x="167.2" y="776.0">21</text><text x="182.2" y="776.0">21</text><text x="197.2" y="776.0">21</text><text x="212.2" y="776.0">21</text><text x="227.2" y="776.0">20</text><text x="242.2" y="776.0">20</text><text x="257.2" y="776.0">20</text><text x="272.2" y="776.0">20</text><text x="287.2" y="776.0">20</text><text x="302.2" y="776.0">20</text><text x="317.2" y="776.0">20</text><text x="332.2" y="776.0">20</text><text x="347.2" y="776.0">21</text><text x="362.2" y="776.0">21</text><text x="377.2" y="776.0">21</text><text x="392.2" y="776.0">21</text><text x="407.2" y="776.0">21</text><text x="422.2" y="776.0">21</text><text x="437.2" y="776.0">21</text><text x="452.2" y="776.0">21</text><text x="467.2" y="776.0">21</text><text x="482.2" y="776.0">21</text><text x="497.2" y="776.0">21</text><text x="512.2" y="776.0">21</text><text x="527.2" y="776.0">21</text><text x="542.2" y="776.0">21</text><text x="557.2" y="776.0">21</text><text x="572.2" y="776.0">21</text><text x="587.2" y="776.0">21</text><text x="602.2" y="776.0">21</text><text x="617.2" y="776.0">22</text><text x="632.2" y="776.0">22</text><text x="647.2" y="776.0">22</text><text x="662.2" y="776.0">22</text><text x="677.2" y="776.0">22</text><text x="692.2" y="776.0">22</text><text x="707.2" y="776.0">22</text><text x="722.2" y="776.0">22</text><text x="737.2" y="776.0">22</text><text x="752.2" y="776.0">21</text>
</g>
<g class="ts" transform="translate(0.9,0.9)">
<text x="10.6" y="28" font-size="19.5">mardi 11 novembre 2025</text>
<text x="11.2" y="52.8" font-size="23.1">7:00 locale</text>
<text x="149.8" y="50.3" font-size="16.2">(+162h)</text>
<text x="12.6" y="85" font-size="15.75">Températures HD à 2m (°C)</text>
</g>
<g class="t">
<text x="10.6" y="28" font-size="19.5">mardi 11 novembre 2025</text>
<text x="11.2" y="52.8" font-size="23.1">7:00 locale</text>
<text x="149.8" y="50.3" font-size="16.2">(+162h)</text>
<text x="12.6" y="85" font-size="15.75">Températures HD à 2m (°C)</text>
</g>
<rect x="510" y="5" width="258" height="21" fill="#000"/>
<text x="520.5" y="20.6" font-family="Liberation Sans, sans-serif" font-weight="bold" font-size="11.2" fill="#fff">Run GFS 12Z du mardi 4 novembre 2025</text>
<g>
<rect x="40.5" y="720.5" width="20" height="20" fill="#04103C" stroke="#000" stroke-width="1"/><rect x="60.5" y="720.5" width="20" height="20" fill="#00305E" stroke="#000" stroke-width="1"/><rect x="80.5" y="720.5" width="20" height="20" fill="#00399C" stroke="#000" stroke-width="1"/><rect x="100.5" y="720.5" width="20" height="20" fill="#0505C5" stroke="#000" stroke-width="1"/><rect x="120.5" y="720.5" width="20" height="20" fill="#0000FF" stroke="#000" stroke-width="1"/><rect x="140.5" y="720.5" width="20" height="20" fill="#0533FF" stroke="#000" stroke-width="1"/><rect x="160.5" y="720.5" width="20" height="20" fill="#0C9BFF" stroke="#000" stroke-width="1"/><rect x="180.5" y="720.5" width="20" height="20" fill="#33CCFF" stroke="#000" stroke-width="1"/><rect x="200.5" y="720.5" width="20" height="20" fill="#66FFFF" stroke="#000" stroke-width="1"/><rect x="220.5" y="720.5" width="20" height="20" fill="#66FF99" stroke="#000" stroke-width="1"/><rect x="240.5" y="720.5" width="20" height="20" fill="#66FF66" stroke="#000" stroke-width="1"/><rect x="260.5" y="720.5" width="20" height="20" fill="#66FF00" stroke="#000" stroke-width="1"/><rect x="280.5" y="720.5" width="20" height="20" fill="#CCF910" stroke="#000" stroke-width="1"/><rect x="300.5" y="720.5" width="20" height="20" fill="#FFFF00" stroke="#000" stroke-width="1"/><rect x="320.5" y="720.5" width="20" height="20" fill="#FFFF80" stroke="#000" stroke-width="1"/><rect x="340.5" y="720.5" width="20" height="20" fill="#FFE64D" stroke="#000" stroke-width="1"/><rect x="360.5" y="720.5" width="20" height="20" fill="#FFCC00" stroke="#000" stroke-width="1"/><rect x="380.5" y="720.5" width="20" height="20" fill="#FF9900" stroke="#000" stroke-width="1"/><rect x="400.5" y="720.5" width="20" height="20" fill="#FF6600" stroke="#000" stroke-width="1"/><rect x="420.5" y="720.5" width="20" height="20" fill="#FF5533" stroke="#000" stroke-width="1"/><rect x="440.5" y="720.5" width="20" height="20" fill="#FF3010" stroke="#000" stroke-width="1"/><rect x="460.5" y="720.5" width="20" height="20" fill="#FF0000" stroke="#000" stroke-width="1"/><rect x="480.5" y="720.5" width="20" height="20" fill="#E00000" stroke="#000" stroke-width="1"/><rect x="500.5" y="720.5" width="20" height="20" fill="#B00000" stroke="#000" stroke-width="1"/><rect x="520.5" y="720.5" width="20" height="20" fill="#990000" stroke="#000" stroke-width="1"/><rect x="540.5" y="720.5" width="20" height="20" fill="#660000" stroke="#000" stroke-width="1"/><rect x="560.5" y="720.5" width="20" height="20" fill="#800050" stroke="#000" stroke-width="1"/><rect x="580.5" y="720.5" width="20" height="20" fill="#990080" stroke="#000" stroke-width="1"/><rect x="600.5" y="720.5" width="20" height="20" fill="#CC00CC" stroke="#000" stroke-width="1"/><rect x="620.5" y="720.5" width="20" height="20" fill="#FF00FF" stroke="#000" stroke-width="1"/><rect x="640.5" y="720.5" width="20" height="20" fill="#FF40FF" stroke="#000" stroke-width="1"/><rect x="660.5" y="720.5" width="20" height="20" fill="#FF80FF" stroke="#000" stroke-width="1"/><rect x="680.5" y="720.5" width="20" height="20" fill="#FFA0FF" stroke="#000" stroke-width="1"/><rect x="700.5" y="720.5" width="20" height="20" fill="#FFFFFF" stroke="#000" stroke-width="1"/>
</g>
<g class="l">
<text x="54.4" y="714.3">-14</text><text x="74.4" y="756.3">-12</text><text x="94.4" y="714.3">-10</text><text x="114.4" y="756.3">-8</text><text x="134.4" y="714.3">-6</text><text x="154.4" y="756.3">-4</text><text x="174.4" y="714.3">-2</text><text x="194.4" y="756.3">0</text><text x="214.4" y="714.3">2</text><text x="234.4" y="756.3">4</text><text x="254.4" y="714.3">6</text><text x="274.4" y="756.3">8</text><text x="294.4" y="714.3">10</text><text x="314.4" y="756.3">12</text><text x="334.4" y="714.3">14</text><text x="354.4" y="756.3">16</text><text x="374.4" y="714.3">18</text><text x="394.4" y="756.3">20</text><text x="414.4" y="714.3">22</text><text x="434.4" y="756.3">24</text><text x="454.4" y="714.3">26</text><text x="474.4" y="756.3">28</text><text x="494.4" y="714.3">30</text><text x="514.4" y="756.3">32</text><text x="534.4" y="714.3">34</text><text x="554.4" y="756.3">36</text><text x="574.4" y="714.3">38</text><text x="594.4" y="756.3">40</text><text x="614.4" y="714.3">42</text><text x="634.4" y="756.3">44</text><text x="654.4" y="714.3">46</text><text x="674.4" y="756.3">48</text><text x="694.4" y="714.3">50</text><text x="714.4" y="756.3">52</text>
</g>
<text x="350.3" y="763.6" font-family="Liberation Sans, sans-serif" font-weight="bold" font-size="11.4" fill="#fff" stroke="#000" stroke-width="2" paint-order="stroke fill" stroke-linejoin="round">Copyright 2025 Meteociel.fr</text>
</svg>
</body></html>
